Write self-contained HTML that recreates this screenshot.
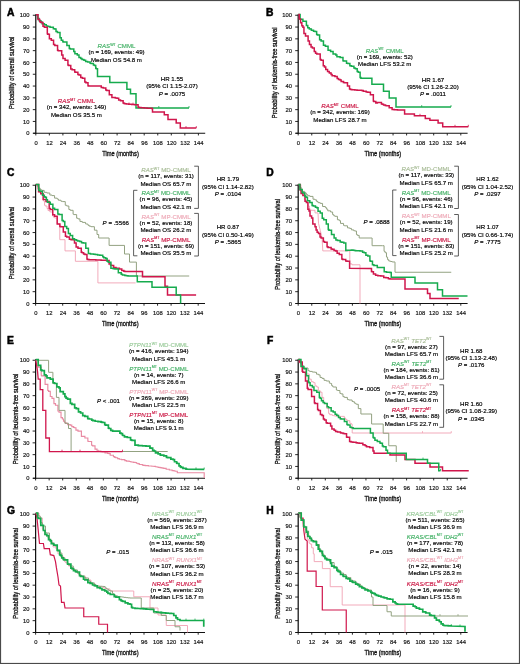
<!DOCTYPE html>
<html><head><meta charset="utf-8"><style>
html,body{margin:0;padding:0;background:#fff;}
body{width:520px;height:664px;overflow:hidden;}
svg{display:block;font-family:"Liberation Sans", sans-serif;filter:blur(0.42px);}
</style></head><body>
<svg width="520" height="664" viewBox="0 0 520 664">
<rect x="0" y="0" width="520" height="664" fill="#fff"/>
<text x="7" y="16" font-size="10.3" font-weight="bold" fill="#000" stroke="#000" stroke-width="0.5">A</text>
<line x1="35.8" y1="14.25" x2="35.8" y2="133.75" stroke="#111" stroke-width="1.25"/>
<line x1="32.8" y1="133.25" x2="35.8" y2="133.25" stroke="#111" stroke-width="0.9"/>
<text transform="translate(29.6,135.3) scale(1.01,1)" font-size="5.8" text-anchor="end" fill="#111" stroke="#111" stroke-width="0.16" >0</text>
<line x1="32.8" y1="121.45" x2="35.8" y2="121.45" stroke="#111" stroke-width="0.9"/>
<text transform="translate(29.6,123.5) scale(1.01,1)" font-size="5.8" text-anchor="end" fill="#111" stroke="#111" stroke-width="0.16" >10</text>
<line x1="32.8" y1="109.65" x2="35.8" y2="109.65" stroke="#111" stroke-width="0.9"/>
<text transform="translate(29.6,111.7) scale(1.01,1)" font-size="5.8" text-anchor="end" fill="#111" stroke="#111" stroke-width="0.16" >20</text>
<line x1="32.8" y1="97.85" x2="35.8" y2="97.85" stroke="#111" stroke-width="0.9"/>
<text transform="translate(29.6,99.9) scale(1.01,1)" font-size="5.8" text-anchor="end" fill="#111" stroke="#111" stroke-width="0.16" >30</text>
<line x1="32.8" y1="86.05" x2="35.8" y2="86.05" stroke="#111" stroke-width="0.9"/>
<text transform="translate(29.6,88.1) scale(1.01,1)" font-size="5.8" text-anchor="end" fill="#111" stroke="#111" stroke-width="0.16" >40</text>
<line x1="32.8" y1="74.25" x2="35.8" y2="74.25" stroke="#111" stroke-width="0.9"/>
<text transform="translate(29.6,76.3) scale(1.01,1)" font-size="5.8" text-anchor="end" fill="#111" stroke="#111" stroke-width="0.16" >50</text>
<line x1="32.8" y1="62.45" x2="35.8" y2="62.45" stroke="#111" stroke-width="0.9"/>
<text transform="translate(29.6,64.5) scale(1.01,1)" font-size="5.8" text-anchor="end" fill="#111" stroke="#111" stroke-width="0.16" >60</text>
<line x1="32.8" y1="50.65" x2="35.8" y2="50.65" stroke="#111" stroke-width="0.9"/>
<text transform="translate(29.6,52.7) scale(1.01,1)" font-size="5.8" text-anchor="end" fill="#111" stroke="#111" stroke-width="0.16" >70</text>
<line x1="32.8" y1="38.85" x2="35.8" y2="38.85" stroke="#111" stroke-width="0.9"/>
<text transform="translate(29.6,40.9) scale(1.01,1)" font-size="5.8" text-anchor="end" fill="#111" stroke="#111" stroke-width="0.16" >80</text>
<line x1="32.8" y1="27.05" x2="35.8" y2="27.05" stroke="#111" stroke-width="0.9"/>
<text transform="translate(29.6,29.1) scale(1.01,1)" font-size="5.8" text-anchor="end" fill="#111" stroke="#111" stroke-width="0.16" >90</text>
<line x1="32.8" y1="15.25" x2="35.8" y2="15.25" stroke="#111" stroke-width="0.9"/>
<text transform="translate(29.6,17.3) scale(1.01,1)" font-size="5.8" text-anchor="end" fill="#111" stroke="#111" stroke-width="0.16" >100</text>
<line x1="33.2" y1="133.25" x2="205.2" y2="133.25" stroke="#111" stroke-width="1.2"/>
<line x1="35.8" y1="133.25" x2="35.8" y2="135.45" stroke="#111" stroke-width="0.9"/>
<text transform="translate(36,144.55) scale(1.01,1)" font-size="5.8" text-anchor="middle" fill="#111" stroke="#111" stroke-width="0.16" >0</text>
<line x1="49.35" y1="133.25" x2="49.35" y2="135.45" stroke="#111" stroke-width="0.9"/>
<text transform="translate(49.55,144.55) scale(1.01,1)" font-size="5.8" text-anchor="middle" fill="#111" stroke="#111" stroke-width="0.16" >12</text>
<line x1="62.9" y1="133.25" x2="62.9" y2="135.45" stroke="#111" stroke-width="0.9"/>
<text transform="translate(63.1,144.55) scale(1.01,1)" font-size="5.8" text-anchor="middle" fill="#111" stroke="#111" stroke-width="0.16" >24</text>
<line x1="76.45" y1="133.25" x2="76.45" y2="135.45" stroke="#111" stroke-width="0.9"/>
<text transform="translate(76.65,144.55) scale(1.01,1)" font-size="5.8" text-anchor="middle" fill="#111" stroke="#111" stroke-width="0.16" >36</text>
<line x1="90" y1="133.25" x2="90" y2="135.45" stroke="#111" stroke-width="0.9"/>
<text transform="translate(90.2,144.55) scale(1.01,1)" font-size="5.8" text-anchor="middle" fill="#111" stroke="#111" stroke-width="0.16" >48</text>
<line x1="103.55" y1="133.25" x2="103.55" y2="135.45" stroke="#111" stroke-width="0.9"/>
<text transform="translate(103.75,144.55) scale(1.01,1)" font-size="5.8" text-anchor="middle" fill="#111" stroke="#111" stroke-width="0.16" >60</text>
<line x1="117.1" y1="133.25" x2="117.1" y2="135.45" stroke="#111" stroke-width="0.9"/>
<text transform="translate(117.3,144.55) scale(1.01,1)" font-size="5.8" text-anchor="middle" fill="#111" stroke="#111" stroke-width="0.16" >72</text>
<line x1="130.65" y1="133.25" x2="130.65" y2="135.45" stroke="#111" stroke-width="0.9"/>
<text transform="translate(130.85,144.55) scale(1.01,1)" font-size="5.8" text-anchor="middle" fill="#111" stroke="#111" stroke-width="0.16" >84</text>
<line x1="144.2" y1="133.25" x2="144.2" y2="135.45" stroke="#111" stroke-width="0.9"/>
<text transform="translate(144.4,144.55) scale(1.01,1)" font-size="5.8" text-anchor="middle" fill="#111" stroke="#111" stroke-width="0.16" >96</text>
<line x1="157.75" y1="133.25" x2="157.75" y2="135.45" stroke="#111" stroke-width="0.9"/>
<text transform="translate(157.95,144.55) scale(1.01,1)" font-size="5.8" text-anchor="middle" fill="#111" stroke="#111" stroke-width="0.16" >108</text>
<line x1="171.3" y1="133.25" x2="171.3" y2="135.45" stroke="#111" stroke-width="0.9"/>
<text transform="translate(171.5,144.55) scale(1.01,1)" font-size="5.8" text-anchor="middle" fill="#111" stroke="#111" stroke-width="0.16" >120</text>
<line x1="184.85" y1="133.25" x2="184.85" y2="135.45" stroke="#111" stroke-width="0.9"/>
<text transform="translate(185.05,144.55) scale(1.01,1)" font-size="5.8" text-anchor="middle" fill="#111" stroke="#111" stroke-width="0.16" >132</text>
<line x1="198.4" y1="133.25" x2="198.4" y2="135.45" stroke="#111" stroke-width="0.9"/>
<text transform="translate(198.6,144.55) scale(1.01,1)" font-size="5.8" text-anchor="middle" fill="#111" stroke="#111" stroke-width="0.16" >144</text>
<text x="120.5" y="156.05" font-size="7.6" text-anchor="middle" fill="#111" stroke="#111" stroke-width="0.34" textLength="36.6" lengthAdjust="spacingAndGlyphs">Time (months)</text>
<text transform="translate(14.2,72.85) rotate(-90)" x="0" y="0" font-size="7.7" text-anchor="middle" fill="#111" stroke="#111" stroke-width="0.32" textLength="72.5" lengthAdjust="spacingAndGlyphs">Probability of overall survival</text>
<path d="M36,14.8 L37.77,14.8 L37.77,18.45 L39.13,18.45 L39.13,20.78 L40.9,20.78 L40.9,22.1 L42.07,22.1 L42.07,23.83 L44.4,23.83 L44.4,24.7 L46.27,24.7 L46.27,26.02 L47.8,26.02 L47.8,26.4 L50.02,26.4 L50.02,27.14 L51.3,27.14 L51.3,27.3 L53.34,27.3 L53.34,28.65 L54.8,28.65 L54.8,29 L56.01,29 L56.01,31.56 L57.4,31.56 L57.4,32.5 L60,32.5 L60,37.7 L61.29,37.7 L61.29,40.3 L62.82,40.3 L62.82,41.63 L63.4,41.63 L63.4,42 L66.9,42 L66.9,45.5 L69.29,45.5 L69.29,48.39 L70.3,48.39 L70.3,48.9 L73.8,48.9 L73.8,51.5 L74.9,51.5 L74.9,53.8 L77.3,53.8 L77.3,55 L78.99,55 L78.99,57.55 L80.7,57.55 L80.7,58.4 L81.98,58.4 L81.98,59.5 L83.71,59.5 L83.71,60.07 L84.2,60.07 L84.2,60.2 L85.63,60.2 L85.63,61.41 L87.6,61.41 L87.6,61.9 L90.14,61.9 L90.14,63.37 L91.1,63.37 L91.1,63.6 L93.42,63.6 L93.42,65.1 L94.6,65.1 L94.6,65.4 L95.73,65.4 L95.73,68.23 L96.3,68.23 L96.3,68.8 L97.5,68.8 L97.5,70 L97.5,76.6 L109.8,76.6 L109.8,82.6 L126.9,82.6 L126.9,89.2 L130.5,89.2 L130.5,93.8 L136,93.8 L136,107.9 L189,107.9" fill="none" stroke="#16ab4e" stroke-width="1.5" stroke-linejoin="miter" stroke-linecap="butt" opacity="1"/>
<path d="M36,14.8 L38.02,14.8 L38.02,19.42 L39.78,19.42 L39.78,21.7 L40.9,21.7 L40.9,22.6 L42.99,22.6 L42.99,26.35 L44.4,26.35 L44.4,27.3 L47.31,27.3 L47.31,33.71 L47.8,33.71 L47.8,34.2 L49.38,34.2 L49.38,38.63 L51.3,38.63 L51.3,40.3 L53.56,40.3 L53.56,44.58 L54.8,44.58 L54.8,45.5 L57.56,45.5 L57.56,50.21 L58.2,50.21 L58.2,50.7 L61.7,50.7 L61.7,55 L62.98,55 L62.98,58.58 L65.1,58.58 L65.1,60.2 L67.92,60.2 L67.92,64.9 L68.6,64.9 L68.6,65.4 L70.77,65.4 L70.77,68.89 L72.1,68.89 L72.1,69.7 L74.71,69.7 L74.71,72 L75.5,72 L75.5,72.3 L77.88,72.3 L77.88,74.48 L79,74.48 L79,74.9 L80.75,74.9 L80.75,77.47 L82.4,77.47 L82.4,78.3 L84.83,78.3 L84.83,82.03 L85.9,82.03 L85.9,82.7 L87.99,82.7 L87.99,85.77 L88.5,85.77 L88.5,86.1 L98,86.1 L101.28,86.1 L101.28,87.57 L103.2,87.57 L103.2,87.9 L105.8,87.9 L105.8,90.08 L106.7,90.08 L106.7,90.4 L109.3,90.4 L109.3,94.8 L111.9,94.8 L111.9,97.4 L115.29,97.4 L115.29,98.07 L117,98.07 L117,98.2 L118.68,98.2 L118.68,100.12 L120.5,100.12 L120.5,100.8 L123.11,100.8 L123.11,103.07 L124,103.07 L124,103.4 L125,103.4 L125,103.8 L126.4,103.8 L126.4,103.97 L127.67,103.97 L127.67,104.07 L128.8,104.07 L128.8,104.24 L131.65,104.24 L131.65,104.41 L132.95,104.41 L132.95,104.54 L134.54,104.54 L134.54,104.68 L136.48,104.68 L136.48,104.78 L136.9,104.78 L136.9,104.8 L138.09,104.8 L138.09,107.04 L138.7,107.04 L138.7,107.5 L141.02,107.5 L141.02,107.75 L144.15,107.75 L144.15,107.95 L147.12,107.95 L147.12,108.15 L150.2,108.15 L150.2,108.3 L151.86,108.3 L151.86,108.38 L152.5,108.38 L152.5,108.4 L152.5,112.1 L164.3,112.1 L164.3,114.8 L168,114.8 L168,119.4 L176.2,119.4 L176.2,123 L180.3,123 L180.3,128 L196.3,128" fill="none" stroke="#d0164c" stroke-width="1.5" stroke-linejoin="miter" stroke-linecap="butt" opacity="1"/>
<path d="M158.8,107.9 V106 M189,107.9 V106" stroke="#16ab4e" stroke-width="0.8" fill="none"/>
<path d="M129,104.4 V102.5 M133,104.6 V102.7 M196.3,128 V126.1 M186,128 V126.1" stroke="#d0164c" stroke-width="0.8" fill="none"/>
<text transform="translate(116.5,48.1) scale(0.98,1)" font-size="6.25" text-anchor="middle" fill="#46b268" stroke="#46b268" stroke-width="0.16"><tspan font-style="italic">RAS</tspan><tspan font-size="3.7" dy="-2.4">WT</tspan><tspan dy="2.4"> </tspan>CMML</text>
<text transform="translate(116.5,54.2) scale(0.98,1)" font-size="6.25" text-anchor="middle" fill="#000" stroke="#000" stroke-width="0.16" >(n = 169, events: 49)</text>
<text transform="translate(116.5,61.7) scale(0.98,1)" font-size="6.25" text-anchor="middle" fill="#000" stroke="#000" stroke-width="0.16" >Median OS 54.8 m</text>
<text transform="translate(76.5,103.2) scale(0.98,1)" font-size="6.25" text-anchor="middle" fill="#cc1a46" stroke="#cc1a46" stroke-width="0.16"><tspan font-style="italic">RAS</tspan><tspan font-size="3.7" dy="-2.4">MT</tspan><tspan dy="2.4"> </tspan>CMML</text>
<text transform="translate(76.5,109.3) scale(0.98,1)" font-size="6.25" text-anchor="middle" fill="#000" stroke="#000" stroke-width="0.16" >(n = 342, events: 149)</text>
<text transform="translate(76.5,116.8) scale(0.98,1)" font-size="6.25" text-anchor="middle" fill="#000" stroke="#000" stroke-width="0.16" >Median OS 35.5 m</text>
<text transform="translate(172,81) scale(0.98,1)" font-size="6.25" text-anchor="middle" fill="#000" stroke="#000" stroke-width="0.16" >HR 1.55</text>
<text transform="translate(172,88.3) scale(0.98,1)" font-size="6.25" text-anchor="middle" fill="#000" stroke="#000" stroke-width="0.16" >(95% CI 1.15-2.07)</text>
<text transform="translate(172,95.6) scale(0.98,1)" font-size="6.25" text-anchor="middle" fill="#000" stroke="#000" stroke-width="0.16" ><tspan font-style="italic">P</tspan> = .0075</text>
<text x="266" y="16" font-size="10.3" font-weight="bold" fill="#000" stroke="#000" stroke-width="0.5">B</text>
<line x1="298.2" y1="14.25" x2="298.2" y2="133.75" stroke="#111" stroke-width="1.25"/>
<line x1="295.2" y1="133.25" x2="298.2" y2="133.25" stroke="#111" stroke-width="0.9"/>
<text transform="translate(292,135.3) scale(1.01,1)" font-size="5.8" text-anchor="end" fill="#111" stroke="#111" stroke-width="0.16" >0</text>
<line x1="295.2" y1="121.45" x2="298.2" y2="121.45" stroke="#111" stroke-width="0.9"/>
<text transform="translate(292,123.5) scale(1.01,1)" font-size="5.8" text-anchor="end" fill="#111" stroke="#111" stroke-width="0.16" >10</text>
<line x1="295.2" y1="109.65" x2="298.2" y2="109.65" stroke="#111" stroke-width="0.9"/>
<text transform="translate(292,111.7) scale(1.01,1)" font-size="5.8" text-anchor="end" fill="#111" stroke="#111" stroke-width="0.16" >20</text>
<line x1="295.2" y1="97.85" x2="298.2" y2="97.85" stroke="#111" stroke-width="0.9"/>
<text transform="translate(292,99.9) scale(1.01,1)" font-size="5.8" text-anchor="end" fill="#111" stroke="#111" stroke-width="0.16" >30</text>
<line x1="295.2" y1="86.05" x2="298.2" y2="86.05" stroke="#111" stroke-width="0.9"/>
<text transform="translate(292,88.1) scale(1.01,1)" font-size="5.8" text-anchor="end" fill="#111" stroke="#111" stroke-width="0.16" >40</text>
<line x1="295.2" y1="74.25" x2="298.2" y2="74.25" stroke="#111" stroke-width="0.9"/>
<text transform="translate(292,76.3) scale(1.01,1)" font-size="5.8" text-anchor="end" fill="#111" stroke="#111" stroke-width="0.16" >50</text>
<line x1="295.2" y1="62.45" x2="298.2" y2="62.45" stroke="#111" stroke-width="0.9"/>
<text transform="translate(292,64.5) scale(1.01,1)" font-size="5.8" text-anchor="end" fill="#111" stroke="#111" stroke-width="0.16" >60</text>
<line x1="295.2" y1="50.65" x2="298.2" y2="50.65" stroke="#111" stroke-width="0.9"/>
<text transform="translate(292,52.7) scale(1.01,1)" font-size="5.8" text-anchor="end" fill="#111" stroke="#111" stroke-width="0.16" >70</text>
<line x1="295.2" y1="38.85" x2="298.2" y2="38.85" stroke="#111" stroke-width="0.9"/>
<text transform="translate(292,40.9) scale(1.01,1)" font-size="5.8" text-anchor="end" fill="#111" stroke="#111" stroke-width="0.16" >80</text>
<line x1="295.2" y1="27.05" x2="298.2" y2="27.05" stroke="#111" stroke-width="0.9"/>
<text transform="translate(292,29.1) scale(1.01,1)" font-size="5.8" text-anchor="end" fill="#111" stroke="#111" stroke-width="0.16" >90</text>
<line x1="295.2" y1="15.25" x2="298.2" y2="15.25" stroke="#111" stroke-width="0.9"/>
<text transform="translate(292,17.3) scale(1.01,1)" font-size="5.8" text-anchor="end" fill="#111" stroke="#111" stroke-width="0.16" >100</text>
<line x1="295.6" y1="133.25" x2="467.6" y2="133.25" stroke="#111" stroke-width="1.2"/>
<line x1="298.2" y1="133.25" x2="298.2" y2="135.45" stroke="#111" stroke-width="0.9"/>
<text transform="translate(298.4,144.55) scale(1.01,1)" font-size="5.8" text-anchor="middle" fill="#111" stroke="#111" stroke-width="0.16" >0</text>
<line x1="311.75" y1="133.25" x2="311.75" y2="135.45" stroke="#111" stroke-width="0.9"/>
<text transform="translate(311.95,144.55) scale(1.01,1)" font-size="5.8" text-anchor="middle" fill="#111" stroke="#111" stroke-width="0.16" >12</text>
<line x1="325.3" y1="133.25" x2="325.3" y2="135.45" stroke="#111" stroke-width="0.9"/>
<text transform="translate(325.5,144.55) scale(1.01,1)" font-size="5.8" text-anchor="middle" fill="#111" stroke="#111" stroke-width="0.16" >24</text>
<line x1="338.85" y1="133.25" x2="338.85" y2="135.45" stroke="#111" stroke-width="0.9"/>
<text transform="translate(339.05,144.55) scale(1.01,1)" font-size="5.8" text-anchor="middle" fill="#111" stroke="#111" stroke-width="0.16" >36</text>
<line x1="352.4" y1="133.25" x2="352.4" y2="135.45" stroke="#111" stroke-width="0.9"/>
<text transform="translate(352.6,144.55) scale(1.01,1)" font-size="5.8" text-anchor="middle" fill="#111" stroke="#111" stroke-width="0.16" >48</text>
<line x1="365.95" y1="133.25" x2="365.95" y2="135.45" stroke="#111" stroke-width="0.9"/>
<text transform="translate(366.15,144.55) scale(1.01,1)" font-size="5.8" text-anchor="middle" fill="#111" stroke="#111" stroke-width="0.16" >60</text>
<line x1="379.5" y1="133.25" x2="379.5" y2="135.45" stroke="#111" stroke-width="0.9"/>
<text transform="translate(379.7,144.55) scale(1.01,1)" font-size="5.8" text-anchor="middle" fill="#111" stroke="#111" stroke-width="0.16" >72</text>
<line x1="393.05" y1="133.25" x2="393.05" y2="135.45" stroke="#111" stroke-width="0.9"/>
<text transform="translate(393.25,144.55) scale(1.01,1)" font-size="5.8" text-anchor="middle" fill="#111" stroke="#111" stroke-width="0.16" >84</text>
<line x1="406.6" y1="133.25" x2="406.6" y2="135.45" stroke="#111" stroke-width="0.9"/>
<text transform="translate(406.8,144.55) scale(1.01,1)" font-size="5.8" text-anchor="middle" fill="#111" stroke="#111" stroke-width="0.16" >96</text>
<line x1="420.15" y1="133.25" x2="420.15" y2="135.45" stroke="#111" stroke-width="0.9"/>
<text transform="translate(420.35,144.55) scale(1.01,1)" font-size="5.8" text-anchor="middle" fill="#111" stroke="#111" stroke-width="0.16" >108</text>
<line x1="433.7" y1="133.25" x2="433.7" y2="135.45" stroke="#111" stroke-width="0.9"/>
<text transform="translate(433.9,144.55) scale(1.01,1)" font-size="5.8" text-anchor="middle" fill="#111" stroke="#111" stroke-width="0.16" >120</text>
<line x1="447.25" y1="133.25" x2="447.25" y2="135.45" stroke="#111" stroke-width="0.9"/>
<text transform="translate(447.45,144.55) scale(1.01,1)" font-size="5.8" text-anchor="middle" fill="#111" stroke="#111" stroke-width="0.16" >132</text>
<line x1="460.8" y1="133.25" x2="460.8" y2="135.45" stroke="#111" stroke-width="0.9"/>
<text transform="translate(461,144.55) scale(1.01,1)" font-size="5.8" text-anchor="middle" fill="#111" stroke="#111" stroke-width="0.16" >144</text>
<text x="382.9" y="156.05" font-size="7.6" text-anchor="middle" fill="#111" stroke="#111" stroke-width="0.34" textLength="36.6" lengthAdjust="spacingAndGlyphs">Time (months)</text>
<text transform="translate(276.9,72.85) rotate(-90)" x="0" y="0" font-size="7.7" text-anchor="middle" fill="#111" stroke="#111" stroke-width="0.32" textLength="90.6" lengthAdjust="spacingAndGlyphs">Probability of leukemia-free survival</text>
<path d="M298.25,14.5 L300.11,14.5 L300.11,19.19 L302.9,19.19 L302.9,21.2 L306.4,21.2 L306.4,25.6 L307.76,25.6 L307.76,27.66 L309.17,27.66 L309.17,28.69 L309.8,28.69 L309.8,29 L311.35,29 L311.35,30.32 L313.52,30.32 L313.52,31.23 L315,31.23 L315,31.6 L316.63,31.6 L316.63,34.44 L317.6,34.44 L317.6,35.1 L319.6,35.1 L319.6,39.82 L321.1,39.82 L321.1,41.1 L323.46,41.1 L323.46,45.13 L325.4,45.13 L325.4,46.3 L328.06,46.3 L328.06,50.23 L330.6,50.23 L330.6,51.5 L333.08,51.5 L333.08,54.09 L335.8,54.09 L335.8,55 L336.92,55 L336.92,56.64 L340.1,56.64 L340.1,57.6 L342.98,57.6 L342.98,60.7 L343.6,60.7 L343.6,61 L346.52,61 L346.52,63.18 L347.9,63.18 L347.9,63.6 L349.86,63.6 L349.86,65.63 L351.4,65.63 L351.4,66.2 L353.92,66.2 L353.92,68.07 L355.07,68.07 L355.07,68.61 L355.7,68.61 L355.7,68.8 L357.2,68.8 L357.2,71.56 L358.3,71.56 L358.3,72.3 L360.11,72.3 L360.11,77.39 L360.9,77.39 L360.9,78.3 L371.9,78.3 L371.9,84.2 L383.5,84.2 L383.5,91.3 L389.2,91.3 L389.2,98.1 L396,98.1 L396,107 L451,107" fill="none" stroke="#16ab4e" stroke-width="1.5" stroke-linejoin="miter" stroke-linecap="butt" opacity="1"/>
<path d="M298.25,14.5 L299.24,14.5 L299.24,19.09 L300.6,19.09 L300.6,22.66 L301.83,22.66 L301.83,25.83 L302.9,25.83 L302.9,27.3 L303.95,27.3 L303.95,33.41 L305.5,33.41 L305.5,36 L308.1,36 L308.1,41.1 L309.45,41.1 L309.45,44.6 L311.05,44.6 L311.05,47 L312.4,47 L312.4,48.1 L314.27,48.1 L314.27,51.53 L315.56,51.53 L315.56,53.25 L316.8,53.25 L316.8,54.1 L320.19,54.1 L320.19,59.56 L321.1,59.56 L321.1,60.2 L323.26,60.2 L323.26,65.84 L324.5,65.84 L324.5,67.1 L325.74,67.1 L325.74,69.58 L327.56,69.58 L327.56,71.57 L329.19,71.57 L329.19,72.8 L329.7,72.8 L329.7,73.1 L331.08,73.1 L331.08,74.38 L332.13,74.38 L332.13,75.67 L334.9,75.67 L334.9,76.6 L337.17,76.6 L337.17,78.58 L338.51,78.58 L338.51,79.57 L340.1,79.57 L340.1,80.1 L341.16,80.1 L341.16,81.42 L343.42,81.42 L343.42,82.4 L344.4,82.4 L344.4,82.7 L347.48,82.7 L347.48,85.9 L347.9,85.9 L347.9,86.1 L349.52,86.1 L349.52,88.94 L350.5,88.94 L350.5,89.6 L351.89,89.6 L351.89,89.8 L354.8,89.8 L354.8,89.9 L357.08,89.9 L357.08,90.17 L359.95,90.17 L359.95,90.34 L361.7,90.34 L361.7,90.4 L363.23,90.4 L363.23,91.29 L366.18,91.29 L366.18,91.96 L367.8,91.96 L367.8,92.2 L370.4,92.2 L370.4,94.8 L373.34,94.8 L373.34,100.95 L373.8,100.95 L373.8,101.4 L375.8,101.4 L375.8,102.9 L377.34,102.9 L377.34,102.55 L379.6,102.55 L379.6,102.4 L381.45,102.4 L381.45,103.96 L382.5,103.96 L382.5,104.3 L383.56,104.3 L383.56,105.05 L385.22,105.05 L385.22,105.59 L386.3,105.59 L386.3,105.8 L389.2,105.8 L389.2,107.7 L392.1,107.7 L392.1,109.6 L394.17,109.6 L394.17,109.75 L397.43,109.75 L397.43,109.88 L400.81,109.88 L400.81,110.01 L404.11,110.01 L404.11,110.09 L404.6,110.09 L404.6,110.1 L404.6,113.9 L414.4,113.9 L414.4,115.7 L425.3,115.7 L425.3,118.5 L429.9,118.5 L429.9,120.3 L438.1,120.3 L438.1,123 L442.7,123 L442.7,126.7 L468.3,126.7" fill="none" stroke="#d0164c" stroke-width="1.5" stroke-linejoin="miter" stroke-linecap="butt" opacity="1"/>
<path d="M421.7,107 V105.1 M451,107 V105.1" stroke="#16ab4e" stroke-width="0.8" fill="none"/>
<path d="M468.3,126.7 V124.8 M455,126.7 V124.8 M420,115.7 V113.8" stroke="#d0164c" stroke-width="0.8" fill="none"/>
<text transform="translate(384.75,52.5) scale(0.98,1)" font-size="6.25" text-anchor="middle" fill="#46b268" stroke="#46b268" stroke-width="0.16"><tspan font-style="italic">RAS</tspan><tspan font-size="3.7" dy="-2.4">WT</tspan><tspan dy="2.4"> </tspan>CMML</text>
<text transform="translate(384.75,58.6) scale(0.98,1)" font-size="6.25" text-anchor="middle" fill="#000" stroke="#000" stroke-width="0.16" >(n = 169, events: 52)</text>
<text transform="translate(384.75,66.1) scale(0.98,1)" font-size="6.25" text-anchor="middle" fill="#000" stroke="#000" stroke-width="0.16" >Median LFS 53.2 m</text>
<text transform="translate(340,108.1) scale(0.98,1)" font-size="6.25" text-anchor="middle" fill="#cc1a46" stroke="#cc1a46" stroke-width="0.16"><tspan font-style="italic">RAS</tspan><tspan font-size="3.7" dy="-2.4">MT</tspan><tspan dy="2.4"> </tspan>CMML</text>
<text transform="translate(340,114.2) scale(0.98,1)" font-size="6.25" text-anchor="middle" fill="#000" stroke="#000" stroke-width="0.16" >(n = 342, events: 169)</text>
<text transform="translate(340,121.7) scale(0.98,1)" font-size="6.25" text-anchor="middle" fill="#000" stroke="#000" stroke-width="0.16" >Median LFS 28.7 m</text>
<text transform="translate(433,81.8) scale(0.98,1)" font-size="6.25" text-anchor="middle" fill="#000" stroke="#000" stroke-width="0.16" >HR 1.67</text>
<text transform="translate(433,89.1) scale(0.98,1)" font-size="6.25" text-anchor="middle" fill="#000" stroke="#000" stroke-width="0.16" >(95% CI 1.26-2.20)</text>
<text transform="translate(433,96.4) scale(0.98,1)" font-size="6.25" text-anchor="middle" fill="#000" stroke="#000" stroke-width="0.16" ><tspan font-style="italic">P</tspan> = .0011</text>
<text x="7" y="175.5" font-size="10.3" font-weight="bold" fill="#000" stroke="#000" stroke-width="0.5">C</text>
<line x1="35.6" y1="184.25" x2="35.6" y2="304" stroke="#111" stroke-width="1.25"/>
<line x1="32.6" y1="303.5" x2="35.6" y2="303.5" stroke="#111" stroke-width="0.9"/>
<text transform="translate(29.4,305.55) scale(1.01,1)" font-size="5.8" text-anchor="end" fill="#111" stroke="#111" stroke-width="0.16" >0</text>
<line x1="32.6" y1="291.68" x2="35.6" y2="291.68" stroke="#111" stroke-width="0.9"/>
<text transform="translate(29.4,293.73) scale(1.01,1)" font-size="5.8" text-anchor="end" fill="#111" stroke="#111" stroke-width="0.16" >10</text>
<line x1="32.6" y1="279.85" x2="35.6" y2="279.85" stroke="#111" stroke-width="0.9"/>
<text transform="translate(29.4,281.9) scale(1.01,1)" font-size="5.8" text-anchor="end" fill="#111" stroke="#111" stroke-width="0.16" >20</text>
<line x1="32.6" y1="268.02" x2="35.6" y2="268.02" stroke="#111" stroke-width="0.9"/>
<text transform="translate(29.4,270.07) scale(1.01,1)" font-size="5.8" text-anchor="end" fill="#111" stroke="#111" stroke-width="0.16" >30</text>
<line x1="32.6" y1="256.2" x2="35.6" y2="256.2" stroke="#111" stroke-width="0.9"/>
<text transform="translate(29.4,258.25) scale(1.01,1)" font-size="5.8" text-anchor="end" fill="#111" stroke="#111" stroke-width="0.16" >40</text>
<line x1="32.6" y1="244.38" x2="35.6" y2="244.38" stroke="#111" stroke-width="0.9"/>
<text transform="translate(29.4,246.43) scale(1.01,1)" font-size="5.8" text-anchor="end" fill="#111" stroke="#111" stroke-width="0.16" >50</text>
<line x1="32.6" y1="232.55" x2="35.6" y2="232.55" stroke="#111" stroke-width="0.9"/>
<text transform="translate(29.4,234.6) scale(1.01,1)" font-size="5.8" text-anchor="end" fill="#111" stroke="#111" stroke-width="0.16" >60</text>
<line x1="32.6" y1="220.72" x2="35.6" y2="220.72" stroke="#111" stroke-width="0.9"/>
<text transform="translate(29.4,222.78) scale(1.01,1)" font-size="5.8" text-anchor="end" fill="#111" stroke="#111" stroke-width="0.16" >70</text>
<line x1="32.6" y1="208.9" x2="35.6" y2="208.9" stroke="#111" stroke-width="0.9"/>
<text transform="translate(29.4,210.95) scale(1.01,1)" font-size="5.8" text-anchor="end" fill="#111" stroke="#111" stroke-width="0.16" >80</text>
<line x1="32.6" y1="197.07" x2="35.6" y2="197.07" stroke="#111" stroke-width="0.9"/>
<text transform="translate(29.4,199.12) scale(1.01,1)" font-size="5.8" text-anchor="end" fill="#111" stroke="#111" stroke-width="0.16" >90</text>
<line x1="32.6" y1="185.25" x2="35.6" y2="185.25" stroke="#111" stroke-width="0.9"/>
<text transform="translate(29.4,187.3) scale(1.01,1)" font-size="5.8" text-anchor="end" fill="#111" stroke="#111" stroke-width="0.16" >100</text>
<line x1="33" y1="303.5" x2="205" y2="303.5" stroke="#111" stroke-width="1.2"/>
<line x1="35.6" y1="303.5" x2="35.6" y2="305.7" stroke="#111" stroke-width="0.9"/>
<text transform="translate(35.8,314.8) scale(1.01,1)" font-size="5.8" text-anchor="middle" fill="#111" stroke="#111" stroke-width="0.16" >0</text>
<line x1="49.15" y1="303.5" x2="49.15" y2="305.7" stroke="#111" stroke-width="0.9"/>
<text transform="translate(49.35,314.8) scale(1.01,1)" font-size="5.8" text-anchor="middle" fill="#111" stroke="#111" stroke-width="0.16" >12</text>
<line x1="62.7" y1="303.5" x2="62.7" y2="305.7" stroke="#111" stroke-width="0.9"/>
<text transform="translate(62.9,314.8) scale(1.01,1)" font-size="5.8" text-anchor="middle" fill="#111" stroke="#111" stroke-width="0.16" >24</text>
<line x1="76.25" y1="303.5" x2="76.25" y2="305.7" stroke="#111" stroke-width="0.9"/>
<text transform="translate(76.45,314.8) scale(1.01,1)" font-size="5.8" text-anchor="middle" fill="#111" stroke="#111" stroke-width="0.16" >36</text>
<line x1="89.8" y1="303.5" x2="89.8" y2="305.7" stroke="#111" stroke-width="0.9"/>
<text transform="translate(90,314.8) scale(1.01,1)" font-size="5.8" text-anchor="middle" fill="#111" stroke="#111" stroke-width="0.16" >48</text>
<line x1="103.35" y1="303.5" x2="103.35" y2="305.7" stroke="#111" stroke-width="0.9"/>
<text transform="translate(103.55,314.8) scale(1.01,1)" font-size="5.8" text-anchor="middle" fill="#111" stroke="#111" stroke-width="0.16" >60</text>
<line x1="116.9" y1="303.5" x2="116.9" y2="305.7" stroke="#111" stroke-width="0.9"/>
<text transform="translate(117.1,314.8) scale(1.01,1)" font-size="5.8" text-anchor="middle" fill="#111" stroke="#111" stroke-width="0.16" >72</text>
<line x1="130.45" y1="303.5" x2="130.45" y2="305.7" stroke="#111" stroke-width="0.9"/>
<text transform="translate(130.65,314.8) scale(1.01,1)" font-size="5.8" text-anchor="middle" fill="#111" stroke="#111" stroke-width="0.16" >84</text>
<line x1="144" y1="303.5" x2="144" y2="305.7" stroke="#111" stroke-width="0.9"/>
<text transform="translate(144.2,314.8) scale(1.01,1)" font-size="5.8" text-anchor="middle" fill="#111" stroke="#111" stroke-width="0.16" >96</text>
<line x1="157.55" y1="303.5" x2="157.55" y2="305.7" stroke="#111" stroke-width="0.9"/>
<text transform="translate(157.75,314.8) scale(1.01,1)" font-size="5.8" text-anchor="middle" fill="#111" stroke="#111" stroke-width="0.16" >108</text>
<line x1="171.1" y1="303.5" x2="171.1" y2="305.7" stroke="#111" stroke-width="0.9"/>
<text transform="translate(171.3,314.8) scale(1.01,1)" font-size="5.8" text-anchor="middle" fill="#111" stroke="#111" stroke-width="0.16" >120</text>
<line x1="184.65" y1="303.5" x2="184.65" y2="305.7" stroke="#111" stroke-width="0.9"/>
<text transform="translate(184.85,314.8) scale(1.01,1)" font-size="5.8" text-anchor="middle" fill="#111" stroke="#111" stroke-width="0.16" >132</text>
<line x1="198.2" y1="303.5" x2="198.2" y2="305.7" stroke="#111" stroke-width="0.9"/>
<text transform="translate(198.4,314.8) scale(1.01,1)" font-size="5.8" text-anchor="middle" fill="#111" stroke="#111" stroke-width="0.16" >144</text>
<text x="120.3" y="326.3" font-size="7.6" text-anchor="middle" fill="#111" stroke="#111" stroke-width="0.34" textLength="36.6" lengthAdjust="spacingAndGlyphs">Time (months)</text>
<text transform="translate(14,243.07) rotate(-90)" x="0" y="0" font-size="7.7" text-anchor="middle" fill="#111" stroke="#111" stroke-width="0.32" textLength="72.5" lengthAdjust="spacingAndGlyphs">Probability of overall survival</text>
<path d="M35.75,184.5 L37.56,184.5 L37.56,189.18 L39.02,189.18 L39.02,192.17 L40.8,192.17 L40.8,193.8 L43.5,193.8 L43.5,201 L44.54,201 L44.54,205.12 L45.1,205.12 L45.1,206 L47,206 L47,208.5 L48.03,208.5 L48.03,210.55 L49.83,210.55 L49.83,211.75 L50.3,211.75 L50.3,212 L52.53,212 L52.53,215.91 L53.68,215.91 L53.68,217.35 L54.6,217.35 L54.6,218 L57.2,218 L57.2,224.1 L59.8,224.1 L59.8,226.7 L59.8,239.7 L65,239.7 L65,250.9 L75.4,250.9 L75.4,261.3 L97.9,261.3 L97.9,282.9 L135.6,282.9" fill="none" stroke="#f0a2b3" stroke-width="0.9" stroke-linejoin="miter" stroke-linecap="butt" opacity="1"/>
<path d="M35.75,184.5 L37.27,184.5 L37.27,186.77 L38.81,186.77 L38.81,188.26 L40.28,188.26 L40.28,189.7 L41.7,189.7 L41.7,190.4 L44.2,190.4 L44.2,192.34 L46.8,192.34 L46.8,193 L49.82,193 L49.82,195.06 L52,195.06 L52,195.6 L54.57,195.6 L54.57,198.14 L57.2,198.14 L57.2,199 L58.4,199 L58.4,200.24 L60.98,200.24 L60.98,201.25 L62.4,201.25 L62.4,201.6 L65.28,201.6 L65.28,205.28 L66.7,205.28 L66.7,206 L68.85,206 L68.85,209.47 L70.2,209.47 L70.2,210.3 L73.1,210.3 L73.1,214.23 L73.7,214.23 L73.7,214.6 L76.63,214.6 L76.63,218.21 L78,218.21 L78,218.9 L79.95,218.9 L79.95,221.44 L82.3,221.44 L82.3,222.4 L85.58,222.4 L85.58,223.9 L86.6,223.9 L86.6,224.1 L88,224.1 L88,225.31 L89.3,225.31 L89.3,226.2 L91,226.2 L91,226.7 L94.4,226.7 L94.4,230.2 L97,230.2 L97,234.5 L98.7,234.5 L98.7,238 L109.1,238 L109.1,245.4 L124.5,245.4 L124.5,254 L129.5,254 L129.5,262.1 L136.4,262.1 L136.4,276 L189.2,276" fill="none" stroke="#93a281" stroke-width="1.0" stroke-linejoin="miter" stroke-linecap="butt" opacity="1"/>
<path d="M35.75,184.5 L38.61,184.5 L38.61,191.78 L40.8,191.78 L40.8,193.8 L43.15,193.8 L43.15,199.46 L46,199.46 L46,201.6 L49.2,201.6 L49.2,208.4 L50.3,208.4 L50.3,209.4 L52.77,209.4 L52.77,214.83 L54.6,214.83 L54.6,216.3 L57.2,216.3 L57.2,224.1 L59.87,224.1 L59.87,226.39 L60.7,226.39 L60.7,226.7 L63.3,226.7 L63.3,231.9 L65.45,231.9 L65.45,236.14 L66.7,236.14 L66.7,237.1 L69.38,237.1 L69.38,239.19 L71.1,239.19 L71.1,239.7 L74.5,239.7 L74.5,243.1 L76.12,243.1 L76.12,246.9 L78,246.9 L78,248.3 L81.27,248.3 L81.27,252.17 L82.3,252.17 L82.3,252.7 L83.62,252.7 L83.62,253.98 L84.9,253.98 L84.9,254.4 L86.96,254.4 L86.96,259.06 L87.5,259.06 L87.5,259.6 L89.07,259.6 L89.07,259.67 L90.24,259.67 L90.24,259.73 L92.85,259.73 L92.85,259.81 L95.74,259.81 L95.74,259.88 L97,259.88 L97,259.9 L98.36,259.9 L98.36,260.04 L101.09,260.04 L101.09,260.18 L103.67,260.18 L103.67,260.29 L105.01,260.29 L105.01,260.36 L106.5,260.36 L106.5,260.4 L109.1,260.4 L109.1,263.9 L110.62,263.9 L110.62,265.25 L111.7,265.25 L111.7,265.6 L113.65,265.6 L113.65,267.49 L116,267.49 L116,268.2 L119.39,268.2 L119.39,269 L120.4,269 L120.4,269.1 L121.78,269.1 L121.78,270.4 L123.82,270.4 L123.82,271.28 L125,271.28 L125,271.6 L142.5,271.6 L142.5,276.8 L165,276.8 L165,286.3 L167.5,286.3 L167.5,295 L196.1,295" fill="none" stroke="#d0164c" stroke-width="1.5" stroke-linejoin="miter" stroke-linecap="butt" opacity="1"/>
<path d="M35.75,184.5 L38.74,184.5 L38.74,190.26 L39.9,190.26 L39.9,191.2 L42.48,191.2 L42.48,195.31 L44.32,195.31 L44.32,196.84 L45.1,196.84 L45.1,197.3 L46.41,197.3 L46.41,199.71 L47.43,199.71 L47.43,202.3 L50.3,202.3 L50.3,204.2 L52.86,204.2 L52.86,208.35 L54.6,208.35 L54.6,209.4 L57.85,209.4 L57.85,213.92 L59,213.92 L59,214.6 L62.1,214.6 L62.1,220.54 L63.3,220.54 L63.3,221.5 L64.8,221.5 L64.8,226.47 L66.7,226.47 L66.7,228.4 L68.4,228.4 L68.4,233.6 L70.2,233.6 L70.2,235.4 L72.61,235.4 L72.61,238.75 L74.5,238.75 L74.5,239.7 L76.5,239.7 L76.5,240.57 L77.81,240.57 L77.81,241.09 L79.7,241.09 L79.7,241.4 L81.55,241.4 L81.55,242.7 L83.2,242.7 L83.2,243.1 L85.8,243.1 L85.8,248.3 L88.4,248.3 L88.4,253.5 L90.41,253.5 L90.41,253.97 L93.62,253.97 L93.62,254.29 L95.3,254.29 L95.3,254.4 L97.58,254.4 L97.58,254.91 L99.83,254.91 L99.83,255.16 L100.87,255.16 L100.87,255.27 L101.3,255.27 L101.3,255.3 L102.73,255.3 L102.73,256.75 L103.73,256.75 L103.73,257.86 L105.7,257.86 L105.7,258.6 L107.11,258.6 L107.11,261.37 L108.3,261.37 L108.3,262.2 L110.9,262.2 L110.9,268.2 L113.24,268.2 L113.24,268.77 L115.02,268.77 L115.02,269.01 L116,269.01 L116,269.1 L118.33,269.1 L118.33,272.87 L121.2,272.87 L121.2,274.3 L122.45,274.3 L122.45,274.9 L124.79,274.9 L124.79,275.4 L126.38,275.4 L126.38,275.8 L128,275.8 L128,276 L137.3,276 L137.3,281.7 L152,281.7 L152,287.2 L176.2,287.2 L176.2,295 L180.6,295 L180.6,303.5" fill="none" stroke="#16ab4e" stroke-width="1.5" stroke-linejoin="miter" stroke-linecap="butt" opacity="1"/>
<text transform="translate(102.6,225.1) scale(0.98,1)" font-size="6.25" text-anchor="start" fill="#000" stroke="#000" stroke-width="0.16" ><tspan font-style="italic">P</tspan> = .5566</text>
<text transform="translate(166,171.9) scale(0.98,1)" font-size="6.25" text-anchor="middle" fill="#a9bd98" stroke="#a9bd98" stroke-width="0.16"><tspan font-style="italic">RAS</tspan><tspan font-size="3.7" dy="-2.4">WT</tspan><tspan dy="2.4"> </tspan>MD-CMML</text>
<text transform="translate(166,178) scale(0.98,1)" font-size="6.25" text-anchor="middle" fill="#000" stroke="#000" stroke-width="0.16" >(n = 117, events: 31)</text>
<text transform="translate(166,185.5) scale(0.98,1)" font-size="6.25" text-anchor="middle" fill="#000" stroke="#000" stroke-width="0.16" >Median OS 65.7 m</text>
<text transform="translate(166,194.9) scale(0.98,1)" font-size="6.25" text-anchor="middle" fill="#46b268" stroke="#46b268" stroke-width="0.16"><tspan font-style="italic">RAS</tspan><tspan font-size="3.7" dy="-2.4">MT</tspan><tspan dy="2.4"> </tspan>MD-CMML</text>
<text transform="translate(166,201) scale(0.98,1)" font-size="6.25" text-anchor="middle" fill="#000" stroke="#000" stroke-width="0.16" >(n = 96, events: 45)</text>
<text transform="translate(166,208.5) scale(0.98,1)" font-size="6.25" text-anchor="middle" fill="#000" stroke="#000" stroke-width="0.16" >Median OS 42.1 m</text>
<text transform="translate(166,218.5) scale(0.98,1)" font-size="6.25" text-anchor="middle" fill="#eeaab8" stroke="#eeaab8" stroke-width="0.16"><tspan font-style="italic">RAS</tspan><tspan font-size="3.7" dy="-2.4">WT</tspan><tspan dy="2.4"> </tspan>MP-CMML</text>
<text transform="translate(166,224.6) scale(0.98,1)" font-size="6.25" text-anchor="middle" fill="#000" stroke="#000" stroke-width="0.16" >(n = 52, events: 18)</text>
<text transform="translate(166,232.1) scale(0.98,1)" font-size="6.25" text-anchor="middle" fill="#000" stroke="#000" stroke-width="0.16" >Median OS 26.2 m</text>
<text transform="translate(166,241.7) scale(0.98,1)" font-size="6.25" text-anchor="middle" fill="#cc1a46" stroke="#cc1a46" stroke-width="0.16"><tspan font-style="italic">RAS</tspan><tspan font-size="3.7" dy="-2.4">MT</tspan><tspan dy="2.4"> </tspan>MP-CMML</text>
<text transform="translate(166,247.8) scale(0.98,1)" font-size="6.25" text-anchor="middle" fill="#000" stroke="#000" stroke-width="0.16" >(n = 151, events: 69)</text>
<text transform="translate(166,255.3) scale(0.98,1)" font-size="6.25" text-anchor="middle" fill="#000" stroke="#000" stroke-width="0.16" >Median OS 35.5 m</text>
<path d="M194.2,166.2 L198.4,166.2 L198.4,208.4 L194.2,208.4" fill="none" stroke="#333" stroke-width="0.8"/>
<path d="M194.2,213.4 L198.4,213.4 L198.4,256 L194.2,256" fill="none" stroke="#333" stroke-width="0.8"/>
<path d="M137.4,190.3 L133.6,190.3 L133.6,255.8 L137.4,255.8" fill="none" stroke="#333" stroke-width="0.8"/>
<text transform="translate(227.9,181.4) scale(0.98,1)" font-size="6.25" text-anchor="middle" fill="#000" stroke="#000" stroke-width="0.16" >HR 1.79</text>
<text transform="translate(227.9,188.75) scale(0.98,1)" font-size="6.25" text-anchor="middle" fill="#000" stroke="#000" stroke-width="0.16" >(95% CI 1.14-2.82)</text>
<text transform="translate(227.9,196.1) scale(0.98,1)" font-size="6.25" text-anchor="middle" fill="#000" stroke="#000" stroke-width="0.16" ><tspan font-style="italic">P</tspan> = .0104</text>
<text transform="translate(227.9,229.3) scale(0.98,1)" font-size="6.25" text-anchor="middle" fill="#000" stroke="#000" stroke-width="0.16" >HR 0.87</text>
<text transform="translate(227.9,236.6) scale(0.98,1)" font-size="6.25" text-anchor="middle" fill="#000" stroke="#000" stroke-width="0.16" >(95% CI 0.50-1.49)</text>
<text transform="translate(227.9,243.9) scale(0.98,1)" font-size="6.25" text-anchor="middle" fill="#000" stroke="#000" stroke-width="0.16" ><tspan font-style="italic">P</tspan> = .5865</text>
<text x="266.25" y="175.5" font-size="10.3" font-weight="bold" fill="#000" stroke="#000" stroke-width="0.5">D</text>
<line x1="298.2" y1="184.25" x2="298.2" y2="304" stroke="#111" stroke-width="1.25"/>
<line x1="295.2" y1="303.5" x2="298.2" y2="303.5" stroke="#111" stroke-width="0.9"/>
<text transform="translate(292,305.55) scale(1.01,1)" font-size="5.8" text-anchor="end" fill="#111" stroke="#111" stroke-width="0.16" >0</text>
<line x1="295.2" y1="291.68" x2="298.2" y2="291.68" stroke="#111" stroke-width="0.9"/>
<text transform="translate(292,293.73) scale(1.01,1)" font-size="5.8" text-anchor="end" fill="#111" stroke="#111" stroke-width="0.16" >10</text>
<line x1="295.2" y1="279.85" x2="298.2" y2="279.85" stroke="#111" stroke-width="0.9"/>
<text transform="translate(292,281.9) scale(1.01,1)" font-size="5.8" text-anchor="end" fill="#111" stroke="#111" stroke-width="0.16" >20</text>
<line x1="295.2" y1="268.02" x2="298.2" y2="268.02" stroke="#111" stroke-width="0.9"/>
<text transform="translate(292,270.07) scale(1.01,1)" font-size="5.8" text-anchor="end" fill="#111" stroke="#111" stroke-width="0.16" >30</text>
<line x1="295.2" y1="256.2" x2="298.2" y2="256.2" stroke="#111" stroke-width="0.9"/>
<text transform="translate(292,258.25) scale(1.01,1)" font-size="5.8" text-anchor="end" fill="#111" stroke="#111" stroke-width="0.16" >40</text>
<line x1="295.2" y1="244.38" x2="298.2" y2="244.38" stroke="#111" stroke-width="0.9"/>
<text transform="translate(292,246.43) scale(1.01,1)" font-size="5.8" text-anchor="end" fill="#111" stroke="#111" stroke-width="0.16" >50</text>
<line x1="295.2" y1="232.55" x2="298.2" y2="232.55" stroke="#111" stroke-width="0.9"/>
<text transform="translate(292,234.6) scale(1.01,1)" font-size="5.8" text-anchor="end" fill="#111" stroke="#111" stroke-width="0.16" >60</text>
<line x1="295.2" y1="220.72" x2="298.2" y2="220.72" stroke="#111" stroke-width="0.9"/>
<text transform="translate(292,222.78) scale(1.01,1)" font-size="5.8" text-anchor="end" fill="#111" stroke="#111" stroke-width="0.16" >70</text>
<line x1="295.2" y1="208.9" x2="298.2" y2="208.9" stroke="#111" stroke-width="0.9"/>
<text transform="translate(292,210.95) scale(1.01,1)" font-size="5.8" text-anchor="end" fill="#111" stroke="#111" stroke-width="0.16" >80</text>
<line x1="295.2" y1="197.07" x2="298.2" y2="197.07" stroke="#111" stroke-width="0.9"/>
<text transform="translate(292,199.12) scale(1.01,1)" font-size="5.8" text-anchor="end" fill="#111" stroke="#111" stroke-width="0.16" >90</text>
<line x1="295.2" y1="185.25" x2="298.2" y2="185.25" stroke="#111" stroke-width="0.9"/>
<text transform="translate(292,187.3) scale(1.01,1)" font-size="5.8" text-anchor="end" fill="#111" stroke="#111" stroke-width="0.16" >100</text>
<line x1="295.6" y1="303.5" x2="467.6" y2="303.5" stroke="#111" stroke-width="1.2"/>
<line x1="298.2" y1="303.5" x2="298.2" y2="305.7" stroke="#111" stroke-width="0.9"/>
<text transform="translate(298.4,314.8) scale(1.01,1)" font-size="5.8" text-anchor="middle" fill="#111" stroke="#111" stroke-width="0.16" >0</text>
<line x1="311.75" y1="303.5" x2="311.75" y2="305.7" stroke="#111" stroke-width="0.9"/>
<text transform="translate(311.95,314.8) scale(1.01,1)" font-size="5.8" text-anchor="middle" fill="#111" stroke="#111" stroke-width="0.16" >12</text>
<line x1="325.3" y1="303.5" x2="325.3" y2="305.7" stroke="#111" stroke-width="0.9"/>
<text transform="translate(325.5,314.8) scale(1.01,1)" font-size="5.8" text-anchor="middle" fill="#111" stroke="#111" stroke-width="0.16" >24</text>
<line x1="338.85" y1="303.5" x2="338.85" y2="305.7" stroke="#111" stroke-width="0.9"/>
<text transform="translate(339.05,314.8) scale(1.01,1)" font-size="5.8" text-anchor="middle" fill="#111" stroke="#111" stroke-width="0.16" >36</text>
<line x1="352.4" y1="303.5" x2="352.4" y2="305.7" stroke="#111" stroke-width="0.9"/>
<text transform="translate(352.6,314.8) scale(1.01,1)" font-size="5.8" text-anchor="middle" fill="#111" stroke="#111" stroke-width="0.16" >48</text>
<line x1="365.95" y1="303.5" x2="365.95" y2="305.7" stroke="#111" stroke-width="0.9"/>
<text transform="translate(366.15,314.8) scale(1.01,1)" font-size="5.8" text-anchor="middle" fill="#111" stroke="#111" stroke-width="0.16" >60</text>
<line x1="379.5" y1="303.5" x2="379.5" y2="305.7" stroke="#111" stroke-width="0.9"/>
<text transform="translate(379.7,314.8) scale(1.01,1)" font-size="5.8" text-anchor="middle" fill="#111" stroke="#111" stroke-width="0.16" >72</text>
<line x1="393.05" y1="303.5" x2="393.05" y2="305.7" stroke="#111" stroke-width="0.9"/>
<text transform="translate(393.25,314.8) scale(1.01,1)" font-size="5.8" text-anchor="middle" fill="#111" stroke="#111" stroke-width="0.16" >84</text>
<line x1="406.6" y1="303.5" x2="406.6" y2="305.7" stroke="#111" stroke-width="0.9"/>
<text transform="translate(406.8,314.8) scale(1.01,1)" font-size="5.8" text-anchor="middle" fill="#111" stroke="#111" stroke-width="0.16" >96</text>
<line x1="420.15" y1="303.5" x2="420.15" y2="305.7" stroke="#111" stroke-width="0.9"/>
<text transform="translate(420.35,314.8) scale(1.01,1)" font-size="5.8" text-anchor="middle" fill="#111" stroke="#111" stroke-width="0.16" >108</text>
<line x1="433.7" y1="303.5" x2="433.7" y2="305.7" stroke="#111" stroke-width="0.9"/>
<text transform="translate(433.9,314.8) scale(1.01,1)" font-size="5.8" text-anchor="middle" fill="#111" stroke="#111" stroke-width="0.16" >120</text>
<line x1="447.25" y1="303.5" x2="447.25" y2="305.7" stroke="#111" stroke-width="0.9"/>
<text transform="translate(447.45,314.8) scale(1.01,1)" font-size="5.8" text-anchor="middle" fill="#111" stroke="#111" stroke-width="0.16" >132</text>
<line x1="460.8" y1="303.5" x2="460.8" y2="305.7" stroke="#111" stroke-width="0.9"/>
<text transform="translate(461,314.8) scale(1.01,1)" font-size="5.8" text-anchor="middle" fill="#111" stroke="#111" stroke-width="0.16" >144</text>
<text x="382.9" y="326.3" font-size="7.6" text-anchor="middle" fill="#111" stroke="#111" stroke-width="0.34" textLength="36.6" lengthAdjust="spacingAndGlyphs">Time (months)</text>
<text transform="translate(280,244.38) rotate(-90)" x="0" y="0" font-size="7.7" text-anchor="middle" fill="#111" stroke="#111" stroke-width="0.32" textLength="90.6" lengthAdjust="spacingAndGlyphs">Probability of leukemia-free survival</text>
<path d="M298.25,184.5 L300.89,184.5 L300.89,193.2 L302.9,193.2 L302.9,195.6 L304.45,195.6 L304.45,199.89 L305.51,199.89 L305.51,201.5 L306,201.5 L306,202 L308.1,202 L308.1,206 L309.34,206 L309.34,209.18 L310.7,209.18 L310.7,210.3 L315,210.3 L315,212.9 L318,212.9 L318.5,223.3 L320.2,230.2 L322,237.1 L322.8,250.9 L349.8,250.9 L349.8,263.9 L352,263.9 L352,264.8 L360,264.8 L360,303.5" fill="none" stroke="#f0a2b3" stroke-width="0.9" stroke-linejoin="miter" stroke-linecap="butt" opacity="1"/>
<path d="M298.25,184.5 L299.49,184.5 L299.49,187.21 L301.13,187.21 L301.13,189.01 L302.21,189.01 L302.21,191.36 L304.7,191.36 L304.7,193 L306.34,193 L306.34,194.53 L307.65,194.53 L307.65,195.68 L309.8,195.68 L309.8,196.4 L313,196.4 L313,199.23 L315,199.23 L315,199.9 L316.62,199.9 L316.62,201.44 L317.97,201.44 L317.97,202.65 L320.2,202.65 L320.2,203.4 L322.57,203.4 L322.57,206.53 L325.4,206.53 L325.4,207.7 L326.61,207.7 L326.61,209.16 L327.74,209.16 L327.74,210.82 L330.6,210.82 L330.6,212 L332.62,212 L332.62,214.6 L333.78,214.6 L333.78,215.74 L334.9,215.74 L334.9,216.3 L337.43,216.3 L337.43,219.76 L339.3,219.76 L339.3,220.7 L340.49,220.7 L340.49,223.42 L343.55,223.42 L343.55,225.38 L344.4,225.38 L344.4,225.8 L347.48,225.8 L347.48,227.87 L349.6,227.87 L349.6,228.4 L351.41,228.4 L351.41,229.89 L353.74,229.89 L353.74,230.73 L354.8,230.73 L354.8,231 L356.44,231 L356.44,234.59 L357.4,234.59 L357.4,235.4 L359.2,235.4 L359.2,238 L372.1,238 L372.1,245.7 L382.5,245.7 L384.07,245.7 L384.07,251.31 L385.1,251.31 L385.1,252.7 L386.48,252.7 L386.48,257.1 L387.59,257.1 L387.59,259.68 L388.75,259.68 L388.75,261 L390.5,261 L390.5,261.52 L392.22,261.52 L392.22,261.97 L395,261.97 L395,262.25 L395,272.25 L451.25,272.25" fill="none" stroke="#93a281" stroke-width="1.0" stroke-linejoin="miter" stroke-linecap="butt" opacity="1"/>
<path d="M298.25,184.5 L300.1,184.5 L300.1,190.11 L301.1,190.11 L301.1,193.45 L302.9,193.45 L302.9,195.6 L305.04,195.6 L305.04,201.16 L306.4,201.16 L306.4,202.5 L307.88,202.5 L307.88,209.24 L309,209.24 L309,211.1 L310,211.1 L310,215.95 L311.6,215.95 L311.6,218.1 L312.81,218.1 L312.81,223.93 L315,223.93 L315,226.7 L316.09,226.7 L316.09,229.88 L317.14,229.88 L317.14,232.25 L318.5,232.25 L318.5,233.6 L320.05,233.6 L320.05,237.11 L321.1,237.11 L321.1,238 L323.37,238 L323.37,241.59 L324.5,241.59 L324.5,242.3 L327.08,242.3 L327.08,246.82 L328,246.82 L328,247.5 L331.12,247.5 L331.12,248.97 L332.3,248.97 L332.3,249.2 L334.08,249.2 L334.08,250.48 L335.8,250.48 L335.8,250.9 L337.15,250.9 L337.15,253.33 L339.3,253.33 L339.3,254.4 L341.85,254.4 L341.85,258.95 L342.7,258.95 L342.7,259.6 L345.71,259.6 L345.71,261.05 L347,261.05 L347,261.3 L349.6,261.3 L349.6,268.2 L368.7,268.6 L371.47,268.6 L371.47,271.41 L372.1,271.41 L372.1,271.7 L373.43,271.7 L373.43,274.11 L375.6,274.11 L375.6,275.2 L377.81,275.2 L377.81,275.77 L380.8,275.77 L380.8,276 L383.74,276 L383.74,277.41 L386,277.41 L386,277.8 L388.4,277.8 L388.4,278.76 L390,278.76 L390,279 L405,279 L405,289 L427.5,289 L427.5,293.5 L430,293.5 L430,298.5 L458.75,298.5" fill="none" stroke="#d0164c" stroke-width="1.5" stroke-linejoin="miter" stroke-linecap="butt" opacity="1"/>
<path d="M298.25,184.5 L299.94,184.5 L299.94,189.6 L302.14,189.6 L302.14,192.31 L302.9,192.31 L302.9,193 L304.73,193 L304.73,195.88 L305.76,195.88 L305.76,196.91 L306.4,196.91 L306.4,197.3 L307.43,197.3 L307.43,200.69 L309.8,200.69 L309.8,202.5 L312.12,202.5 L312.12,205.41 L313.3,205.41 L313.3,206 L315.44,206 L315.44,207.37 L316.8,207.37 L316.8,207.7 L318.05,207.7 L318.05,211.25 L320.2,211.25 L320.2,212.9 L322.24,212.9 L322.24,218.36 L323.7,218.36 L323.7,219.8 L326.3,219.8 L326.3,224.1 L328.24,224.1 L328.24,229.43 L328.9,229.43 L328.9,230.2 L331.5,230.2 L331.5,234.5 L334.1,234.5 L334.1,238 L335.92,238 L335.92,240 L337.5,240 L337.5,240.6 L340.2,240.6 L340.2,241.98 L341.8,241.98 L341.8,242.3 L343.77,242.3 L343.77,242.9 L345.8,242.9 L345.8,243.1 L345.8,250.5 L346.92,250.5 L346.92,250.37 L348.23,250.37 L348.23,250.29 L349.39,250.29 L349.39,250.17 L351.4,250.17 L351.4,250.1 L353.01,250.1 L353.01,250.31 L354.39,250.31 L354.39,250.43 L355.59,250.43 L355.59,250.63 L358.61,250.63 L358.61,250.84 L360,250.84 L360,250.9 L362.61,250.9 L362.61,252.35 L364.3,252.35 L364.3,252.7 L365.88,252.7 L365.88,255.17 L367.8,255.17 L367.8,256.1 L369.9,256.1 L369.9,260.8 L370.4,260.8 L370.4,261.3 L372.47,261.3 L372.47,264.72 L373.9,264.72 L373.9,265.6 L377.3,265.6 L377.3,267.4 L380.8,267.4 L384.2,267.4 L384.2,271.7 L386.51,271.7 L386.51,272.13 L388.1,272.13 L388.1,272.37 L390,272.37 L390,272.5 L391.25,272.5 L391.25,277.25 L415,277.25 L415,283 L437.5,283 L437.5,289.75 L442.5,289.75 L442.5,296 L467.5,296" fill="none" stroke="#16ab4e" stroke-width="1.5" stroke-linejoin="miter" stroke-linecap="butt" opacity="1"/>
<text transform="translate(363.4,224.3) scale(0.98,1)" font-size="6.25" text-anchor="start" fill="#000" stroke="#000" stroke-width="0.16" ><tspan font-style="italic">P</tspan> = .0888</text>
<text transform="translate(426.25,171.3) scale(0.98,1)" font-size="6.25" text-anchor="middle" fill="#a9bd98" stroke="#a9bd98" stroke-width="0.16"><tspan font-style="italic">RAS</tspan><tspan font-size="3.7" dy="-2.4">WT</tspan><tspan dy="2.4"> </tspan>MD-CMML</text>
<text transform="translate(426.25,177.4) scale(0.98,1)" font-size="6.25" text-anchor="middle" fill="#000" stroke="#000" stroke-width="0.16" >(n = 117, events: 33)</text>
<text transform="translate(426.25,184.9) scale(0.98,1)" font-size="6.25" text-anchor="middle" fill="#000" stroke="#000" stroke-width="0.16" >Median LFS 65.7 m</text>
<text transform="translate(426.25,194.7) scale(0.98,1)" font-size="6.25" text-anchor="middle" fill="#46b268" stroke="#46b268" stroke-width="0.16"><tspan font-style="italic">RAS</tspan><tspan font-size="3.7" dy="-2.4">MT</tspan><tspan dy="2.4"> </tspan>MD-CMML</text>
<text transform="translate(426.25,200.8) scale(0.98,1)" font-size="6.25" text-anchor="middle" fill="#000" stroke="#000" stroke-width="0.16" >(n = 96, events: 46)</text>
<text transform="translate(426.25,208.3) scale(0.98,1)" font-size="6.25" text-anchor="middle" fill="#000" stroke="#000" stroke-width="0.16" >Median LFS 42.1 m</text>
<text transform="translate(426.25,218.3) scale(0.98,1)" font-size="6.25" text-anchor="middle" fill="#eeaab8" stroke="#eeaab8" stroke-width="0.16"><tspan font-style="italic">RAS</tspan><tspan font-size="3.7" dy="-2.4">WT</tspan><tspan dy="2.4"> </tspan>MP-CMML</text>
<text transform="translate(426.25,224.4) scale(0.98,1)" font-size="6.25" text-anchor="middle" fill="#000" stroke="#000" stroke-width="0.16" >(n = 52, events: 19)</text>
<text transform="translate(426.25,231.9) scale(0.98,1)" font-size="6.25" text-anchor="middle" fill="#000" stroke="#000" stroke-width="0.16" >Median LFS 21.6 m</text>
<text transform="translate(426.25,241.6) scale(0.98,1)" font-size="6.25" text-anchor="middle" fill="#cc1a46" stroke="#cc1a46" stroke-width="0.16"><tspan font-style="italic">RAS</tspan><tspan font-size="3.7" dy="-2.4">MT</tspan><tspan dy="2.4"> </tspan>MP-CMML</text>
<text transform="translate(426.25,247.7) scale(0.98,1)" font-size="6.25" text-anchor="middle" fill="#000" stroke="#000" stroke-width="0.16" >(n = 151, events: 83)</text>
<text transform="translate(426.25,255.2) scale(0.98,1)" font-size="6.25" text-anchor="middle" fill="#000" stroke="#000" stroke-width="0.16" >Median LFS 25.2 m</text>
<path d="M454.2,166.2 L458.4,166.2 L458.4,208.5 L454.2,208.5" fill="none" stroke="#333" stroke-width="0.8"/>
<path d="M454.2,214.5 L458.4,214.5 L458.4,256 L454.2,256" fill="none" stroke="#333" stroke-width="0.8"/>
<path d="M396.5,190 L392.7,190 L392.7,255.6 L396.5,255.6" fill="none" stroke="#333" stroke-width="0.8"/>
<text transform="translate(487.5,181.3) scale(0.98,1)" font-size="6.25" text-anchor="middle" fill="#000" stroke="#000" stroke-width="0.16" >HR 1.62</text>
<text transform="translate(487.5,188.55) scale(0.98,1)" font-size="6.25" text-anchor="middle" fill="#000" stroke="#000" stroke-width="0.16" >(95% CI 1.04-2.52)</text>
<text transform="translate(487.5,195.8) scale(0.98,1)" font-size="6.25" text-anchor="middle" fill="#000" stroke="#000" stroke-width="0.16" ><tspan font-style="italic">P</tspan> = .0297</text>
<text transform="translate(487.5,229.2) scale(0.98,1)" font-size="6.25" text-anchor="middle" fill="#000" stroke="#000" stroke-width="0.16" >HR 1.07</text>
<text transform="translate(487.5,236.5) scale(0.98,1)" font-size="6.25" text-anchor="middle" fill="#000" stroke="#000" stroke-width="0.16" >(95% CI 0.66-1.74)</text>
<text transform="translate(487.5,243.8) scale(0.98,1)" font-size="6.25" text-anchor="middle" fill="#000" stroke="#000" stroke-width="0.16" ><tspan font-style="italic">P</tspan> = .7775</text>
<text x="7" y="344" font-size="10.3" font-weight="bold" fill="#000" stroke="#000" stroke-width="0.5">E</text>
<line x1="35.6" y1="359.25" x2="35.6" y2="478.75" stroke="#111" stroke-width="1.25"/>
<line x1="32.6" y1="478.25" x2="35.6" y2="478.25" stroke="#111" stroke-width="0.9"/>
<text transform="translate(29.4,480.3) scale(1.01,1)" font-size="5.8" text-anchor="end" fill="#111" stroke="#111" stroke-width="0.16" >0</text>
<line x1="32.6" y1="466.45" x2="35.6" y2="466.45" stroke="#111" stroke-width="0.9"/>
<text transform="translate(29.4,468.5) scale(1.01,1)" font-size="5.8" text-anchor="end" fill="#111" stroke="#111" stroke-width="0.16" >10</text>
<line x1="32.6" y1="454.65" x2="35.6" y2="454.65" stroke="#111" stroke-width="0.9"/>
<text transform="translate(29.4,456.7) scale(1.01,1)" font-size="5.8" text-anchor="end" fill="#111" stroke="#111" stroke-width="0.16" >20</text>
<line x1="32.6" y1="442.85" x2="35.6" y2="442.85" stroke="#111" stroke-width="0.9"/>
<text transform="translate(29.4,444.9) scale(1.01,1)" font-size="5.8" text-anchor="end" fill="#111" stroke="#111" stroke-width="0.16" >30</text>
<line x1="32.6" y1="431.05" x2="35.6" y2="431.05" stroke="#111" stroke-width="0.9"/>
<text transform="translate(29.4,433.1) scale(1.01,1)" font-size="5.8" text-anchor="end" fill="#111" stroke="#111" stroke-width="0.16" >40</text>
<line x1="32.6" y1="419.25" x2="35.6" y2="419.25" stroke="#111" stroke-width="0.9"/>
<text transform="translate(29.4,421.3) scale(1.01,1)" font-size="5.8" text-anchor="end" fill="#111" stroke="#111" stroke-width="0.16" >50</text>
<line x1="32.6" y1="407.45" x2="35.6" y2="407.45" stroke="#111" stroke-width="0.9"/>
<text transform="translate(29.4,409.5) scale(1.01,1)" font-size="5.8" text-anchor="end" fill="#111" stroke="#111" stroke-width="0.16" >60</text>
<line x1="32.6" y1="395.65" x2="35.6" y2="395.65" stroke="#111" stroke-width="0.9"/>
<text transform="translate(29.4,397.7) scale(1.01,1)" font-size="5.8" text-anchor="end" fill="#111" stroke="#111" stroke-width="0.16" >70</text>
<line x1="32.6" y1="383.85" x2="35.6" y2="383.85" stroke="#111" stroke-width="0.9"/>
<text transform="translate(29.4,385.9) scale(1.01,1)" font-size="5.8" text-anchor="end" fill="#111" stroke="#111" stroke-width="0.16" >80</text>
<line x1="32.6" y1="372.05" x2="35.6" y2="372.05" stroke="#111" stroke-width="0.9"/>
<text transform="translate(29.4,374.1) scale(1.01,1)" font-size="5.8" text-anchor="end" fill="#111" stroke="#111" stroke-width="0.16" >90</text>
<line x1="32.6" y1="360.25" x2="35.6" y2="360.25" stroke="#111" stroke-width="0.9"/>
<text transform="translate(29.4,362.3) scale(1.01,1)" font-size="5.8" text-anchor="end" fill="#111" stroke="#111" stroke-width="0.16" >100</text>
<line x1="33" y1="478.25" x2="205" y2="478.25" stroke="#111" stroke-width="1.2"/>
<line x1="35.6" y1="478.25" x2="35.6" y2="480.45" stroke="#111" stroke-width="0.9"/>
<text transform="translate(35.8,489.55) scale(1.01,1)" font-size="5.8" text-anchor="middle" fill="#111" stroke="#111" stroke-width="0.16" >0</text>
<line x1="49.15" y1="478.25" x2="49.15" y2="480.45" stroke="#111" stroke-width="0.9"/>
<text transform="translate(49.35,489.55) scale(1.01,1)" font-size="5.8" text-anchor="middle" fill="#111" stroke="#111" stroke-width="0.16" >12</text>
<line x1="62.7" y1="478.25" x2="62.7" y2="480.45" stroke="#111" stroke-width="0.9"/>
<text transform="translate(62.9,489.55) scale(1.01,1)" font-size="5.8" text-anchor="middle" fill="#111" stroke="#111" stroke-width="0.16" >24</text>
<line x1="76.25" y1="478.25" x2="76.25" y2="480.45" stroke="#111" stroke-width="0.9"/>
<text transform="translate(76.45,489.55) scale(1.01,1)" font-size="5.8" text-anchor="middle" fill="#111" stroke="#111" stroke-width="0.16" >36</text>
<line x1="89.8" y1="478.25" x2="89.8" y2="480.45" stroke="#111" stroke-width="0.9"/>
<text transform="translate(90,489.55) scale(1.01,1)" font-size="5.8" text-anchor="middle" fill="#111" stroke="#111" stroke-width="0.16" >48</text>
<line x1="103.35" y1="478.25" x2="103.35" y2="480.45" stroke="#111" stroke-width="0.9"/>
<text transform="translate(103.55,489.55) scale(1.01,1)" font-size="5.8" text-anchor="middle" fill="#111" stroke="#111" stroke-width="0.16" >60</text>
<line x1="116.9" y1="478.25" x2="116.9" y2="480.45" stroke="#111" stroke-width="0.9"/>
<text transform="translate(117.1,489.55) scale(1.01,1)" font-size="5.8" text-anchor="middle" fill="#111" stroke="#111" stroke-width="0.16" >72</text>
<line x1="130.45" y1="478.25" x2="130.45" y2="480.45" stroke="#111" stroke-width="0.9"/>
<text transform="translate(130.65,489.55) scale(1.01,1)" font-size="5.8" text-anchor="middle" fill="#111" stroke="#111" stroke-width="0.16" >84</text>
<line x1="144" y1="478.25" x2="144" y2="480.45" stroke="#111" stroke-width="0.9"/>
<text transform="translate(144.2,489.55) scale(1.01,1)" font-size="5.8" text-anchor="middle" fill="#111" stroke="#111" stroke-width="0.16" >96</text>
<line x1="157.55" y1="478.25" x2="157.55" y2="480.45" stroke="#111" stroke-width="0.9"/>
<text transform="translate(157.75,489.55) scale(1.01,1)" font-size="5.8" text-anchor="middle" fill="#111" stroke="#111" stroke-width="0.16" >108</text>
<line x1="171.1" y1="478.25" x2="171.1" y2="480.45" stroke="#111" stroke-width="0.9"/>
<text transform="translate(171.3,489.55) scale(1.01,1)" font-size="5.8" text-anchor="middle" fill="#111" stroke="#111" stroke-width="0.16" >120</text>
<line x1="184.65" y1="478.25" x2="184.65" y2="480.45" stroke="#111" stroke-width="0.9"/>
<text transform="translate(184.85,489.55) scale(1.01,1)" font-size="5.8" text-anchor="middle" fill="#111" stroke="#111" stroke-width="0.16" >132</text>
<line x1="198.2" y1="478.25" x2="198.2" y2="480.45" stroke="#111" stroke-width="0.9"/>
<text transform="translate(198.4,489.55) scale(1.01,1)" font-size="5.8" text-anchor="middle" fill="#111" stroke="#111" stroke-width="0.16" >144</text>
<text x="120.3" y="501.05" font-size="7.6" text-anchor="middle" fill="#111" stroke="#111" stroke-width="0.34" textLength="36.6" lengthAdjust="spacingAndGlyphs">Time (months)</text>
<text transform="translate(17.8,418.95) rotate(-90)" x="0" y="0" font-size="7.7" text-anchor="middle" fill="#111" stroke="#111" stroke-width="0.32" textLength="90.6" lengthAdjust="spacingAndGlyphs">Probability of leukemia-free survival</text>
<path d="M35.75,360.3 L38.2,360.3 L38.2,367.1 L41.22,367.1 L41.22,375.2 L41.7,375.2 L41.7,375.8 L45.1,375.8 L45.1,384.4 L47.82,384.4 L47.82,390.53 L48.6,390.53 L48.6,391.3 L50.29,391.3 L50.29,396.54 L52,396.54 L52,398.3 L53.94,398.3 L53.94,403.66 L55.5,403.66 L55.5,405.2 L57.92,405.2 L57.92,411.03 L59,411.03 L59,412.1 L61.03,412.1 L61.03,417.61 L62.4,417.61 L62.4,419 L63.51,419 L63.51,421.12 L64.74,421.12 L64.74,422.59 L65.9,422.59 L65.9,423.3 L67.58,423.3 L67.58,424.55 L70.2,424.55 L70.2,425.1 L71.79,425.1 L71.79,426.56 L73.43,426.56 L73.43,427.38 L74.5,427.38 L74.5,427.7 L75.95,427.7 L75.95,430.1 L78,430.1 L78,431.1 L81.4,431.1 L81.4,436.3 L84.9,436.3 L84.9,438 L87.85,438 L87.85,441.23 L88.4,441.23 L88.4,441.5 L91.6,441.5 L91.6,445.25 L92.7,445.25 L92.7,445.8 L95.02,445.8 L95.02,449.19 L97,449.19 L97,450.2 L98.11,450.2 L98.11,451.01 L100.87,451.01 L100.87,451.68 L102.2,451.68 L102.2,451.9 L105.01,451.9 L105.01,452.91 L107.56,452.91 L107.56,453.41 L109.1,453.41 L109.1,453.6 L110.21,453.6 L110.21,455.27 L113.44,455.27 L113.44,456.65 L114.74,456.65 L114.74,457.38 L115.8,457.38 L115.8,457.7 L117.62,457.7 L117.62,458.59 L119.33,458.59 L119.33,459.24 L121.5,459.24 L121.5,459.6 L124.85,459.6 L124.85,460.63 L126.47,460.63 L126.47,461.16 L129.2,461.16 L129.2,461.5 L130.92,461.5 L130.92,462 L133.26,462 L133.26,462.35 L135,462.35 L135,462.5 L136.39,462.5 L136.39,463.2 L137.78,463.2 L137.78,463.67 L139.27,463.67 L139.27,464.45 L142.45,464.45 L142.45,465.19 L143.7,465.19 L143.7,465.4 L145.22,465.4 L145.22,465.67 L148.41,465.67 L148.41,465.95 L151.81,465.95 L151.81,466.2 L154.2,466.2 L154.2,466.3 L155.53,466.3 L155.53,466.73 L156.98,466.73 L156.98,467.01 L158.19,467.01 L158.19,467.32 L160.01,467.32 L160.01,467.64 L161.22,467.64 L161.22,467.93 L162.79,467.93 L162.79,468.19 L163.8,468.19 L163.8,468.3 L166.17,468.3 L166.17,469.28 L169.31,469.28 L169.31,470.03 L172.11,470.03 L172.11,470.63 L174.1,470.63 L174.1,471.04 L175.4,471.04 L175.4,471.2 L177.3,471.2 L177.3,472.7 L204.2,472.7 L204.2,478" fill="none" stroke="#e98ba3" stroke-width="1.15" stroke-linejoin="miter" stroke-linecap="butt" opacity="1"/>
<path d="M35.75,360.3 L48.6,360.3 L48.6,372.3 L52.9,372.3 L52.9,383.5 L56.4,383.5 L56.4,397.4 L59,397.4 L59,410.4 L65,410.4 L65,423.3 L68.5,423.3 L68.5,428.5 L71.1,428.5 L71.1,451.5 L167.7,451.5" fill="none" stroke="#93a281" stroke-width="1.0" stroke-linejoin="miter" stroke-linecap="butt" opacity="1"/>
<path d="M35.75,360.3 L36.8,366.3 L37.6,372 L38.2,379.2 L40.2,379.2 L40.2,389.6 L42.8,389.6 L42.8,410.4 L45.8,410.4 L45.8,438 L49.4,438 L49.4,451.6 L122.5,451.6" fill="none" stroke="#d0164c" stroke-width="1.3" stroke-linejoin="miter" stroke-linecap="butt" opacity="1"/>
<path d="M35.75,359.5 L38.2,359.5 L38.2,365.4 L40.71,365.4 L40.71,369.86 L41.7,369.86 L41.7,370.6 L44.34,370.6 L44.34,374.79 L46,374.79 L46,375.8 L47,375.8 L47,377.89 L50.3,377.89 L50.3,379.2 L53.1,379.2 L53.1,382.75 L54.6,382.75 L54.6,383.5 L56.89,383.5 L56.89,386.84 L59,386.84 L59,387.9 L60.15,387.9 L60.15,391.7 L63.3,391.7 L63.3,393.9 L64.9,393.9 L64.9,396.54 L66.07,396.54 L66.07,398.18 L67.6,398.18 L67.6,399.1 L70.35,399.1 L70.35,403.37 L71.9,403.37 L71.9,404.3 L74.68,404.3 L74.68,407.81 L76.3,407.81 L76.3,408.6 L78.49,408.6 L78.49,411.92 L80.6,411.92 L80.6,413 L82.75,413 L82.75,415.55 L84.9,415.55 L84.9,416.4 L87.75,416.4 L87.75,418.56 L89.2,418.56 L89.2,419 L91.75,419 L91.75,420.21 L92.92,420.21 L92.92,420.57 L93.6,420.57 L93.6,420.7 L95.2,420.7 L95.2,421.23 L97.99,421.23 L97.99,421.54 L98.7,421.54 L98.7,421.6 L101.06,421.6 L101.06,422.19 L102.08,422.19 L102.08,422.4 L103.1,422.4 L103.1,422.5 L104.74,422.5 L104.74,424.62 L105.7,424.62 L105.7,425.1 L108.37,425.1 L108.37,428.13 L109.1,428.13 L109.1,428.5 L110.79,428.5 L110.79,430.43 L112.6,430.43 L112.6,431.1 L117.8,431.1 L119.91,431.1 L119.91,433.21 L121.2,433.21 L121.2,433.7 L122.48,433.7 L122.48,435.24 L123,435.24 L123,435.5 L124.47,435.5 L124.47,436.84 L127.3,436.84 L127.3,437.5 L130.56,437.5 L130.56,439.78 L131.59,439.78 L131.59,440.25 L132.1,440.25 L132.1,440.4 L135,440.4 L135,445.2 L138.33,445.2 L138.33,445.54 L140.41,445.54 L140.41,445.69 L142.05,445.69 L142.05,445.77 L142.7,445.77 L142.7,445.8 L145.98,445.8 L145.98,446.14 L147.5,446.14 L147.5,446.2 L149.9,446.2 L149.9,447.94 L150.4,447.94 L150.4,448.1 L152.66,448.1 L152.66,450.41 L154.2,450.41 L154.2,451 L155.51,451 L155.51,452.87 L158.1,452.87 L158.1,453.8 L160.32,453.8 L160.32,455.19 L163.8,455.19 L163.8,455.8 L166.49,455.8 L166.49,457.41 L167.7,457.41 L167.7,457.7 L170.86,457.7 L170.86,459.09 L173.03,459.09 L173.03,459.52 L173.5,459.52 L173.5,459.6 L174.5,459.6 L174.5,461.74 L176.68,461.74 L176.68,463.18 L177.3,463.18 L177.3,463.5 L179.02,463.5 L179.02,465.82 L180.35,465.82 L180.35,466.89 L181.2,466.89 L181.2,467.3 L182.95,467.3 L182.95,468.39 L185.98,468.39 L185.98,469.05 L186.9,469.05 L186.9,469.2 L204.2,469.4" fill="none" stroke="#16ab4e" stroke-width="1.7" stroke-linejoin="miter" stroke-linecap="butt" opacity="1"/>
<path d="M204.2,469.4 V467.5 M196,469.3 V467.4 M150,447.6 V445.7" stroke="#16ab4e" stroke-width="0.8" fill="none"/>
<path d="M62,451.6 V449.7 M80,451.6 V449.7 M122.5,451.6 V449.7" stroke="#d0164c" stroke-width="0.8" fill="none"/>
<text transform="translate(97,402.5) scale(0.98,1)" font-size="6.25" text-anchor="start" fill="#000" stroke="#000" stroke-width="0.16" ><tspan font-style="italic">P</tspan> &lt; .001</text>
<text transform="translate(158.75,347.1) scale(0.98,1)" font-size="6.25" text-anchor="middle" fill="#9ccc9c" stroke="#9ccc9c" stroke-width="0.16"><tspan font-style="italic">PTPN11</tspan><tspan font-size="3.7" dy="-2.4">WT</tspan><tspan dy="2.4"> </tspan>MD-CMML</text>
<text transform="translate(158.75,353.2) scale(0.98,1)" font-size="6.25" text-anchor="middle" fill="#000" stroke="#000" stroke-width="0.16" >(n = 416, events: 194)</text>
<text transform="translate(158.75,360.7) scale(0.98,1)" font-size="6.25" text-anchor="middle" fill="#000" stroke="#000" stroke-width="0.16" >Median LFS 45.1 m</text>
<text transform="translate(158.75,370.7) scale(0.98,1)" font-size="6.25" text-anchor="middle" fill="#46b268" stroke="#46b268" stroke-width="0.16"><tspan font-style="italic">PTPN11</tspan><tspan font-size="3.7" dy="-2.4">MT</tspan><tspan dy="2.4"> </tspan>MD-CMML</text>
<text transform="translate(158.75,376.8) scale(0.98,1)" font-size="6.25" text-anchor="middle" fill="#000" stroke="#000" stroke-width="0.16" >(n = 14, events: 7)</text>
<text transform="translate(158.75,384.3) scale(0.98,1)" font-size="6.25" text-anchor="middle" fill="#000" stroke="#000" stroke-width="0.16" >Median LFS 26.6 m</text>
<text transform="translate(158.75,393.7) scale(0.98,1)" font-size="6.25" text-anchor="middle" fill="#eeaab8" stroke="#eeaab8" stroke-width="0.16"><tspan font-style="italic">PTPN11</tspan><tspan font-size="3.7" dy="-2.4">WT</tspan><tspan dy="2.4"> </tspan>MP-CMML</text>
<text transform="translate(158.75,399.8) scale(0.98,1)" font-size="6.25" text-anchor="middle" fill="#000" stroke="#000" stroke-width="0.16" >(n = 369, events: 209)</text>
<text transform="translate(158.75,407.3) scale(0.98,1)" font-size="6.25" text-anchor="middle" fill="#000" stroke="#000" stroke-width="0.16" >Median LFS 22.5 m</text>
<text transform="translate(158.75,416.8) scale(0.98,1)" font-size="6.25" text-anchor="middle" fill="#cc1a46" stroke="#cc1a46" stroke-width="0.16"><tspan font-style="italic">PTPN11</tspan><tspan font-size="3.7" dy="-2.4">MT</tspan><tspan dy="2.4"> </tspan>MP-CMML</text>
<text transform="translate(158.75,422.9) scale(0.98,1)" font-size="6.25" text-anchor="middle" fill="#000" stroke="#000" stroke-width="0.16" >(n = 15, events: 8)</text>
<text transform="translate(158.75,430.4) scale(0.98,1)" font-size="6.25" text-anchor="middle" fill="#000" stroke="#000" stroke-width="0.16" >Median LFS 9.1 m</text>
<text x="267" y="344" font-size="10.3" font-weight="bold" fill="#000" stroke="#000" stroke-width="0.5">F</text>
<line x1="298.2" y1="359.25" x2="298.2" y2="478.75" stroke="#111" stroke-width="1.25"/>
<line x1="295.2" y1="478.25" x2="298.2" y2="478.25" stroke="#111" stroke-width="0.9"/>
<text transform="translate(292,480.3) scale(1.01,1)" font-size="5.8" text-anchor="end" fill="#111" stroke="#111" stroke-width="0.16" >0</text>
<line x1="295.2" y1="466.45" x2="298.2" y2="466.45" stroke="#111" stroke-width="0.9"/>
<text transform="translate(292,468.5) scale(1.01,1)" font-size="5.8" text-anchor="end" fill="#111" stroke="#111" stroke-width="0.16" >10</text>
<line x1="295.2" y1="454.65" x2="298.2" y2="454.65" stroke="#111" stroke-width="0.9"/>
<text transform="translate(292,456.7) scale(1.01,1)" font-size="5.8" text-anchor="end" fill="#111" stroke="#111" stroke-width="0.16" >20</text>
<line x1="295.2" y1="442.85" x2="298.2" y2="442.85" stroke="#111" stroke-width="0.9"/>
<text transform="translate(292,444.9) scale(1.01,1)" font-size="5.8" text-anchor="end" fill="#111" stroke="#111" stroke-width="0.16" >30</text>
<line x1="295.2" y1="431.05" x2="298.2" y2="431.05" stroke="#111" stroke-width="0.9"/>
<text transform="translate(292,433.1) scale(1.01,1)" font-size="5.8" text-anchor="end" fill="#111" stroke="#111" stroke-width="0.16" >40</text>
<line x1="295.2" y1="419.25" x2="298.2" y2="419.25" stroke="#111" stroke-width="0.9"/>
<text transform="translate(292,421.3) scale(1.01,1)" font-size="5.8" text-anchor="end" fill="#111" stroke="#111" stroke-width="0.16" >50</text>
<line x1="295.2" y1="407.45" x2="298.2" y2="407.45" stroke="#111" stroke-width="0.9"/>
<text transform="translate(292,409.5) scale(1.01,1)" font-size="5.8" text-anchor="end" fill="#111" stroke="#111" stroke-width="0.16" >60</text>
<line x1="295.2" y1="395.65" x2="298.2" y2="395.65" stroke="#111" stroke-width="0.9"/>
<text transform="translate(292,397.7) scale(1.01,1)" font-size="5.8" text-anchor="end" fill="#111" stroke="#111" stroke-width="0.16" >70</text>
<line x1="295.2" y1="383.85" x2="298.2" y2="383.85" stroke="#111" stroke-width="0.9"/>
<text transform="translate(292,385.9) scale(1.01,1)" font-size="5.8" text-anchor="end" fill="#111" stroke="#111" stroke-width="0.16" >80</text>
<line x1="295.2" y1="372.05" x2="298.2" y2="372.05" stroke="#111" stroke-width="0.9"/>
<text transform="translate(292,374.1) scale(1.01,1)" font-size="5.8" text-anchor="end" fill="#111" stroke="#111" stroke-width="0.16" >90</text>
<line x1="295.2" y1="360.25" x2="298.2" y2="360.25" stroke="#111" stroke-width="0.9"/>
<text transform="translate(292,362.3) scale(1.01,1)" font-size="5.8" text-anchor="end" fill="#111" stroke="#111" stroke-width="0.16" >100</text>
<line x1="295.6" y1="478.25" x2="467.6" y2="478.25" stroke="#111" stroke-width="1.2"/>
<line x1="298.2" y1="478.25" x2="298.2" y2="480.45" stroke="#111" stroke-width="0.9"/>
<text transform="translate(298.4,489.55) scale(1.01,1)" font-size="5.8" text-anchor="middle" fill="#111" stroke="#111" stroke-width="0.16" >0</text>
<line x1="311.75" y1="478.25" x2="311.75" y2="480.45" stroke="#111" stroke-width="0.9"/>
<text transform="translate(311.95,489.55) scale(1.01,1)" font-size="5.8" text-anchor="middle" fill="#111" stroke="#111" stroke-width="0.16" >12</text>
<line x1="325.3" y1="478.25" x2="325.3" y2="480.45" stroke="#111" stroke-width="0.9"/>
<text transform="translate(325.5,489.55) scale(1.01,1)" font-size="5.8" text-anchor="middle" fill="#111" stroke="#111" stroke-width="0.16" >24</text>
<line x1="338.85" y1="478.25" x2="338.85" y2="480.45" stroke="#111" stroke-width="0.9"/>
<text transform="translate(339.05,489.55) scale(1.01,1)" font-size="5.8" text-anchor="middle" fill="#111" stroke="#111" stroke-width="0.16" >36</text>
<line x1="352.4" y1="478.25" x2="352.4" y2="480.45" stroke="#111" stroke-width="0.9"/>
<text transform="translate(352.6,489.55) scale(1.01,1)" font-size="5.8" text-anchor="middle" fill="#111" stroke="#111" stroke-width="0.16" >48</text>
<line x1="365.95" y1="478.25" x2="365.95" y2="480.45" stroke="#111" stroke-width="0.9"/>
<text transform="translate(366.15,489.55) scale(1.01,1)" font-size="5.8" text-anchor="middle" fill="#111" stroke="#111" stroke-width="0.16" >60</text>
<line x1="379.5" y1="478.25" x2="379.5" y2="480.45" stroke="#111" stroke-width="0.9"/>
<text transform="translate(379.7,489.55) scale(1.01,1)" font-size="5.8" text-anchor="middle" fill="#111" stroke="#111" stroke-width="0.16" >72</text>
<line x1="393.05" y1="478.25" x2="393.05" y2="480.45" stroke="#111" stroke-width="0.9"/>
<text transform="translate(393.25,489.55) scale(1.01,1)" font-size="5.8" text-anchor="middle" fill="#111" stroke="#111" stroke-width="0.16" >84</text>
<line x1="406.6" y1="478.25" x2="406.6" y2="480.45" stroke="#111" stroke-width="0.9"/>
<text transform="translate(406.8,489.55) scale(1.01,1)" font-size="5.8" text-anchor="middle" fill="#111" stroke="#111" stroke-width="0.16" >96</text>
<line x1="420.15" y1="478.25" x2="420.15" y2="480.45" stroke="#111" stroke-width="0.9"/>
<text transform="translate(420.35,489.55) scale(1.01,1)" font-size="5.8" text-anchor="middle" fill="#111" stroke="#111" stroke-width="0.16" >108</text>
<line x1="433.7" y1="478.25" x2="433.7" y2="480.45" stroke="#111" stroke-width="0.9"/>
<text transform="translate(433.9,489.55) scale(1.01,1)" font-size="5.8" text-anchor="middle" fill="#111" stroke="#111" stroke-width="0.16" >120</text>
<line x1="447.25" y1="478.25" x2="447.25" y2="480.45" stroke="#111" stroke-width="0.9"/>
<text transform="translate(447.45,489.55) scale(1.01,1)" font-size="5.8" text-anchor="middle" fill="#111" stroke="#111" stroke-width="0.16" >132</text>
<line x1="460.8" y1="478.25" x2="460.8" y2="480.45" stroke="#111" stroke-width="0.9"/>
<text transform="translate(461,489.55) scale(1.01,1)" font-size="5.8" text-anchor="middle" fill="#111" stroke="#111" stroke-width="0.16" >144</text>
<text x="382.9" y="501.05" font-size="7.6" text-anchor="middle" fill="#111" stroke="#111" stroke-width="0.34" textLength="36.6" lengthAdjust="spacingAndGlyphs">Time (months)</text>
<text transform="translate(280,419) rotate(-90)" x="0" y="0" font-size="7.7" text-anchor="middle" fill="#111" stroke="#111" stroke-width="0.32" textLength="90.6" lengthAdjust="spacingAndGlyphs">Probability of leukemia-free survival</text>
<path d="M298.25,359.5 L299.32,359.5 L299.32,362.81 L301.13,362.81 L301.13,366.01 L303.14,366.01 L303.14,368.25 L303.8,368.25 L303.8,368.8 L305.27,368.8 L305.27,372.87 L306.4,372.87 L306.4,374 L309.18,374 L309.18,378.72 L309.8,378.72 L309.8,379.2 L311.29,379.2 L311.29,381.69 L313.3,381.69 L313.3,382.7 L315.04,382.7 L315.04,385.92 L316.8,385.92 L316.8,387 L318.35,387 L318.35,390.78 L320.2,390.78 L320.2,392.2 L322,392.2 L322,397.4 L323.7,397.4 L323.7,402.44 L324.5,402.44 L324.5,403.4 L326.69,403.4 L326.69,408.19 L327.1,408.19 L327.1,408.6 L328.63,408.6 L328.63,413.45 L329.7,413.45 L329.7,414.7 L332.3,414.7 L332.3,415.48 L333.2,415.48 L333.2,415.6 L334.54,415.6 L334.54,416.03 L336.49,416.03 L336.49,416.31 L337.5,416.31 L337.5,416.4 L341.8,416.4 L344.4,416.4 L344.4,418.1 L345.73,418.1 L345.73,419.5 L346.85,419.5 L346.85,420.31 L347.9,420.31 L347.9,420.7 L349.84,420.7 L349.84,423.42 L351.4,423.42 L351.4,424.2 L352.2,424.2 L352.2,433 L451.25,433" fill="none" stroke="#f0a2b3" stroke-width="0.9" stroke-linejoin="miter" stroke-linecap="butt" opacity="1"/>
<path d="M298.25,359.5 L300.15,359.5 L300.15,363.2 L301.96,363.2 L301.96,365.14 L303.1,365.14 L303.1,366.95 L304.7,366.95 L304.7,368 L308.03,368 L308.03,370.65 L309.33,370.65 L309.33,371.24 L309.8,371.24 L309.8,371.4 L312.31,371.4 L312.31,372.07 L315,372.07 L315,372.3 L316.51,372.3 L316.51,374.16 L318.5,374.16 L318.5,374.9 L320.09,374.9 L320.09,377.45 L322,377.45 L322,378.4 L324.07,378.4 L324.07,380.33 L326.3,380.33 L326.3,381 L329.34,381 L329.34,383.13 L330.6,383.13 L330.6,383.5 L331.64,383.5 L331.64,385.62 L332.71,385.62 L332.71,386.67 L333.2,386.67 L333.2,387 L336.36,387 L336.36,390.04 L337.5,390.04 L337.5,390.5 L339.91,390.5 L339.91,393.37 L341,393.37 L341,393.9 L342.94,393.9 L342.94,396.65 L344.4,396.65 L344.4,397.4 L347.39,397.4 L347.39,399.58 L348.8,399.58 L348.8,400 L352.14,400 L352.14,401.51 L353.1,401.51 L353.1,401.7 L354.35,401.7 L354.35,403.14 L355.72,403.14 L355.72,403.97 L356.6,403.97 L356.6,404.3 L358.3,404.3 L358.3,408.6 L360.9,408.6 L360.9,414 L371.6,414 L371.6,424 L383.2,424 L383.2,433.25 L388.75,433.25 L388.75,445.75 L396.25,445.75 L396.25,462" fill="none" stroke="#93a281" stroke-width="1.0" stroke-linejoin="miter" stroke-linecap="butt" opacity="1"/>
<path d="M298.25,359.5 L299.5,359.5 L299.5,362 L302.26,362 L302.26,371.34 L302.9,371.34 L302.9,372.3 L305.5,372.3 L305.5,381 L307.29,381 L307.29,388.26 L308.1,388.26 L308.1,389.6 L311.6,389.6 L311.6,396.5 L314.4,396.5 L314.4,402.79 L315,402.79 L315,403.4 L317.6,403.4 L317.6,409.5 L318.5,409.5 L318.5,410.4 L320.39,410.4 L320.39,414.41 L322,414.41 L322,415.6 L323.4,415.6 L323.4,418.95 L324.5,418.95 L324.5,419.9 L326.17,419.9 L326.17,422.69 L327.1,422.69 L327.1,423.3 L330.6,423.3 L330.6,426 L331.89,426 L331.89,428.94 L334.1,428.94 L334.1,430.3 L335.59,430.3 L335.59,431.52 L337.5,431.52 L337.5,432 L340.48,432 L340.48,432.83 L341,432.83 L341,432.9 L343.04,432.9 L343.04,433.54 L344.4,433.54 L344.4,433.7 L346.54,433.7 L346.54,436.89 L347,436.89 L347,437.2 L349.6,437.2 L349.6,441.5 L351.06,441.5 L351.06,441.89 L352.93,441.89 L352.93,442.3 L356.09,442.3 L356.09,442.65 L357.15,442.65 L357.15,442.9 L359.14,442.9 L359.14,443.13 L360,443.13 L360,443.2 L362.85,443.2 L362.85,444.7 L364.3,444.7 L364.3,445 L365.37,445 L365.37,445.7 L366.52,445.7 L366.52,446.63 L369.73,446.63 L369.73,447.46 L370.4,447.46 L370.4,447.6 L373,447.6 L373,451 L374,451 L374,453.25 L390,453.25 L390,455 L405,455 L405,459.5 L415,459.5 L415,463.25 L430,463.25 L430,467 L442.5,467 L442.5,470.75 L468.75,470.75" fill="none" stroke="#d0164c" stroke-width="1.5" stroke-linejoin="miter" stroke-linecap="butt" opacity="1"/>
<path d="M298.25,359.5 L300.99,359.5 L300.99,366.44 L303.8,366.44 L303.8,368.8 L306.4,368.8 L306.4,375.8 L308.5,375.8 L308.5,382.03 L309,382.03 L309,382.7 L310.09,382.7 L310.09,385.54 L312.4,385.54 L312.4,387 L313.95,387 L313.95,390.52 L316.8,390.52 L316.8,392.2 L319.35,392.2 L319.35,397.54 L320.2,397.54 L320.2,398.3 L321.5,398.3 L321.5,400.79 L323.1,400.79 L323.1,402.57 L324.5,402.57 L324.5,403.4 L327.18,403.4 L327.18,406.71 L328.44,406.71 L328.44,407.57 L328.9,407.57 L328.9,407.8 L331.16,407.8 L331.16,411.08 L333.2,411.08 L333.2,412.1 L335.13,412.1 L335.13,414.29 L336.66,414.29 L336.66,415.26 L337.5,415.26 L337.5,415.6 L338.52,415.6 L338.52,417.42 L340.23,417.42 L340.23,418.63 L341,418.63 L341,419 L344.4,419 L344.4,421.6 L346.95,421.6 L346.95,424.62 L347.9,424.62 L347.9,425.1 L350.04,425.1 L350.04,427.19 L351.4,427.19 L351.4,427.7 L353.1,427.7 L353.1,428.5 L369.2,428.5 L370.4,428.5 L370.4,432.9 L373.1,432.9 L373.1,437.41 L373.9,437.41 L373.9,438 L374.94,438 L374.94,440.29 L377.3,440.29 L377.3,441.5 L379.92,441.5 L379.92,442.99 L380.8,442.99 L380.8,443.2 L382.41,443.2 L382.41,446.04 L383.4,446.04 L383.4,446.7 L386,446.7 L386,450.2 L387.5,450.2 L387.5,453.25 L406.25,453.25 L406.25,459.5 L427.5,459.5 L427.5,463.25 L438.75,463.25 L438.75,470.75 L440.5,470.75" fill="none" stroke="#16ab4e" stroke-width="1.5" stroke-linejoin="miter" stroke-linecap="butt" opacity="1"/>
<path d="M422.5,433 V431.1 M451.25,433 V431.1" stroke="#f0a2b3" stroke-width="0.8" fill="none"/>
<path d="M440.5,470.75 V468.85 M423,459.5 V457.6" stroke="#16ab4e" stroke-width="0.8" fill="none"/>
<text transform="translate(353.9,390.8) scale(0.98,1)" font-size="6.25" text-anchor="start" fill="#000" stroke="#000" stroke-width="0.16" ><tspan font-style="italic">P</tspan> = .0005</text>
<text transform="translate(411.5,342.7) scale(0.98,1)" font-size="6.25" text-anchor="middle" fill="#a9bd98" stroke="#a9bd98" stroke-width="0.16"><tspan font-style="italic">RAS</tspan><tspan font-size="3.7" dy="-2.4">WT</tspan><tspan dy="2.4"> </tspan><tspan font-style="italic">TET2</tspan><tspan font-size="3.7" dy="-2.4">WT</tspan><tspan dy="2.4"></tspan></text>
<text transform="translate(411.5,348.8) scale(0.98,1)" font-size="6.25" text-anchor="middle" fill="#000" stroke="#000" stroke-width="0.16" >(n = 97, events: 27)</text>
<text transform="translate(411.5,356.3) scale(0.98,1)" font-size="6.25" text-anchor="middle" fill="#000" stroke="#000" stroke-width="0.16" >Median LFS 65.7 m</text>
<text transform="translate(411.5,365.6) scale(0.98,1)" font-size="6.25" text-anchor="middle" fill="#46b268" stroke="#46b268" stroke-width="0.16"><tspan font-style="italic">RAS</tspan><tspan font-size="3.7" dy="-2.4">WT</tspan><tspan dy="2.4"> </tspan><tspan font-style="italic">TET2</tspan><tspan font-size="3.7" dy="-2.4">MT</tspan><tspan dy="2.4"></tspan></text>
<text transform="translate(411.5,371.7) scale(0.98,1)" font-size="6.25" text-anchor="middle" fill="#000" stroke="#000" stroke-width="0.16" >(n = 184, events: 81)</text>
<text transform="translate(411.5,379.2) scale(0.98,1)" font-size="6.25" text-anchor="middle" fill="#000" stroke="#000" stroke-width="0.16" >Median LFS 36.6 m</text>
<text transform="translate(411.5,388.8) scale(0.98,1)" font-size="6.25" text-anchor="middle" fill="#eeaab8" stroke="#eeaab8" stroke-width="0.16"><tspan font-style="italic">RAS</tspan><tspan font-size="3.7" dy="-2.4">MT</tspan><tspan dy="2.4"> </tspan><tspan font-style="italic">TET2</tspan><tspan font-size="3.7" dy="-2.4">WT</tspan><tspan dy="2.4"></tspan></text>
<text transform="translate(411.5,394.9) scale(0.98,1)" font-size="6.25" text-anchor="middle" fill="#000" stroke="#000" stroke-width="0.16" >(n = 72, events: 25)</text>
<text transform="translate(411.5,402.4) scale(0.98,1)" font-size="6.25" text-anchor="middle" fill="#000" stroke="#000" stroke-width="0.16" >Median LFS 40.6 m</text>
<text transform="translate(411.5,412.3) scale(0.98,1)" font-size="6.25" text-anchor="middle" fill="#cc1a46" stroke="#cc1a46" stroke-width="0.16"><tspan font-style="italic">RAS</tspan><tspan font-size="3.7" dy="-2.4">MT</tspan><tspan dy="2.4"> </tspan><tspan font-style="italic">TET2</tspan><tspan font-size="3.7" dy="-2.4">MT</tspan><tspan dy="2.4"></tspan></text>
<text transform="translate(411.5,418.4) scale(0.98,1)" font-size="6.25" text-anchor="middle" fill="#000" stroke="#000" stroke-width="0.16" >(n = 158, events: 88)</text>
<text transform="translate(411.5,425.9) scale(0.98,1)" font-size="6.25" text-anchor="middle" fill="#000" stroke="#000" stroke-width="0.16" >Median LFS 22.7 m</text>
<path d="M439.4,336.4 L443.6,336.4 L443.6,379.2 L439.4,379.2" fill="none" stroke="#333" stroke-width="0.8"/>
<path d="M439.4,384.8 L443.6,384.8 L443.6,427.3 L439.4,427.3" fill="none" stroke="#333" stroke-width="0.8"/>
<text transform="translate(471.25,352.8) scale(0.98,1)" font-size="6.25" text-anchor="middle" fill="#000" stroke="#000" stroke-width="0.16" >HR 1.68</text>
<text transform="translate(471.25,360.1) scale(0.98,1)" font-size="6.25" text-anchor="middle" fill="#000" stroke="#000" stroke-width="0.16" >(95% CI 1.13-2.48)</text>
<text transform="translate(471.25,367.4) scale(0.98,1)" font-size="6.25" text-anchor="middle" fill="#000" stroke="#000" stroke-width="0.16" ><tspan font-style="italic">P</tspan> = .0176</text>
<text transform="translate(471.25,405.6) scale(0.98,1)" font-size="6.25" text-anchor="middle" fill="#000" stroke="#000" stroke-width="0.16" >HR 1.60</text>
<text transform="translate(471.25,413.1) scale(0.98,1)" font-size="6.25" text-anchor="middle" fill="#000" stroke="#000" stroke-width="0.16" >(95% CI 1.08-2.39)</text>
<text transform="translate(471.25,420.6) scale(0.98,1)" font-size="6.25" text-anchor="middle" fill="#000" stroke="#000" stroke-width="0.16" ><tspan font-style="italic">P</tspan> = .0345</text>
<text x="7" y="514.25" font-size="10.3" font-weight="bold" fill="#000" stroke="#000" stroke-width="0.5">G</text>
<line x1="35.6" y1="513.25" x2="35.6" y2="633" stroke="#111" stroke-width="1.25"/>
<line x1="32.6" y1="632.5" x2="35.6" y2="632.5" stroke="#111" stroke-width="0.9"/>
<text transform="translate(29.4,634.55) scale(1.01,1)" font-size="5.8" text-anchor="end" fill="#111" stroke="#111" stroke-width="0.16" >0</text>
<line x1="32.6" y1="620.67" x2="35.6" y2="620.67" stroke="#111" stroke-width="0.9"/>
<text transform="translate(29.4,622.72) scale(1.01,1)" font-size="5.8" text-anchor="end" fill="#111" stroke="#111" stroke-width="0.16" >10</text>
<line x1="32.6" y1="608.85" x2="35.6" y2="608.85" stroke="#111" stroke-width="0.9"/>
<text transform="translate(29.4,610.9) scale(1.01,1)" font-size="5.8" text-anchor="end" fill="#111" stroke="#111" stroke-width="0.16" >20</text>
<line x1="32.6" y1="597.02" x2="35.6" y2="597.02" stroke="#111" stroke-width="0.9"/>
<text transform="translate(29.4,599.07) scale(1.01,1)" font-size="5.8" text-anchor="end" fill="#111" stroke="#111" stroke-width="0.16" >30</text>
<line x1="32.6" y1="585.2" x2="35.6" y2="585.2" stroke="#111" stroke-width="0.9"/>
<text transform="translate(29.4,587.25) scale(1.01,1)" font-size="5.8" text-anchor="end" fill="#111" stroke="#111" stroke-width="0.16" >40</text>
<line x1="32.6" y1="573.38" x2="35.6" y2="573.38" stroke="#111" stroke-width="0.9"/>
<text transform="translate(29.4,575.42) scale(1.01,1)" font-size="5.8" text-anchor="end" fill="#111" stroke="#111" stroke-width="0.16" >50</text>
<line x1="32.6" y1="561.55" x2="35.6" y2="561.55" stroke="#111" stroke-width="0.9"/>
<text transform="translate(29.4,563.6) scale(1.01,1)" font-size="5.8" text-anchor="end" fill="#111" stroke="#111" stroke-width="0.16" >60</text>
<line x1="32.6" y1="549.73" x2="35.6" y2="549.73" stroke="#111" stroke-width="0.9"/>
<text transform="translate(29.4,551.77) scale(1.01,1)" font-size="5.8" text-anchor="end" fill="#111" stroke="#111" stroke-width="0.16" >70</text>
<line x1="32.6" y1="537.9" x2="35.6" y2="537.9" stroke="#111" stroke-width="0.9"/>
<text transform="translate(29.4,539.95) scale(1.01,1)" font-size="5.8" text-anchor="end" fill="#111" stroke="#111" stroke-width="0.16" >80</text>
<line x1="32.6" y1="526.08" x2="35.6" y2="526.08" stroke="#111" stroke-width="0.9"/>
<text transform="translate(29.4,528.12) scale(1.01,1)" font-size="5.8" text-anchor="end" fill="#111" stroke="#111" stroke-width="0.16" >90</text>
<line x1="32.6" y1="514.25" x2="35.6" y2="514.25" stroke="#111" stroke-width="0.9"/>
<text transform="translate(29.4,516.3) scale(1.01,1)" font-size="5.8" text-anchor="end" fill="#111" stroke="#111" stroke-width="0.16" >100</text>
<line x1="33" y1="632.5" x2="205" y2="632.5" stroke="#111" stroke-width="1.2"/>
<line x1="35.6" y1="632.5" x2="35.6" y2="634.7" stroke="#111" stroke-width="0.9"/>
<text transform="translate(35.8,643.8) scale(1.01,1)" font-size="5.8" text-anchor="middle" fill="#111" stroke="#111" stroke-width="0.16" >0</text>
<line x1="49.15" y1="632.5" x2="49.15" y2="634.7" stroke="#111" stroke-width="0.9"/>
<text transform="translate(49.35,643.8) scale(1.01,1)" font-size="5.8" text-anchor="middle" fill="#111" stroke="#111" stroke-width="0.16" >12</text>
<line x1="62.7" y1="632.5" x2="62.7" y2="634.7" stroke="#111" stroke-width="0.9"/>
<text transform="translate(62.9,643.8) scale(1.01,1)" font-size="5.8" text-anchor="middle" fill="#111" stroke="#111" stroke-width="0.16" >24</text>
<line x1="76.25" y1="632.5" x2="76.25" y2="634.7" stroke="#111" stroke-width="0.9"/>
<text transform="translate(76.45,643.8) scale(1.01,1)" font-size="5.8" text-anchor="middle" fill="#111" stroke="#111" stroke-width="0.16" >36</text>
<line x1="89.8" y1="632.5" x2="89.8" y2="634.7" stroke="#111" stroke-width="0.9"/>
<text transform="translate(90,643.8) scale(1.01,1)" font-size="5.8" text-anchor="middle" fill="#111" stroke="#111" stroke-width="0.16" >48</text>
<line x1="103.35" y1="632.5" x2="103.35" y2="634.7" stroke="#111" stroke-width="0.9"/>
<text transform="translate(103.55,643.8) scale(1.01,1)" font-size="5.8" text-anchor="middle" fill="#111" stroke="#111" stroke-width="0.16" >60</text>
<line x1="116.9" y1="632.5" x2="116.9" y2="634.7" stroke="#111" stroke-width="0.9"/>
<text transform="translate(117.1,643.8) scale(1.01,1)" font-size="5.8" text-anchor="middle" fill="#111" stroke="#111" stroke-width="0.16" >72</text>
<line x1="130.45" y1="632.5" x2="130.45" y2="634.7" stroke="#111" stroke-width="0.9"/>
<text transform="translate(130.65,643.8) scale(1.01,1)" font-size="5.8" text-anchor="middle" fill="#111" stroke="#111" stroke-width="0.16" >84</text>
<line x1="144" y1="632.5" x2="144" y2="634.7" stroke="#111" stroke-width="0.9"/>
<text transform="translate(144.2,643.8) scale(1.01,1)" font-size="5.8" text-anchor="middle" fill="#111" stroke="#111" stroke-width="0.16" >96</text>
<line x1="157.55" y1="632.5" x2="157.55" y2="634.7" stroke="#111" stroke-width="0.9"/>
<text transform="translate(157.75,643.8) scale(1.01,1)" font-size="5.8" text-anchor="middle" fill="#111" stroke="#111" stroke-width="0.16" >108</text>
<line x1="171.1" y1="632.5" x2="171.1" y2="634.7" stroke="#111" stroke-width="0.9"/>
<text transform="translate(171.3,643.8) scale(1.01,1)" font-size="5.8" text-anchor="middle" fill="#111" stroke="#111" stroke-width="0.16" >120</text>
<line x1="184.65" y1="632.5" x2="184.65" y2="634.7" stroke="#111" stroke-width="0.9"/>
<text transform="translate(184.85,643.8) scale(1.01,1)" font-size="5.8" text-anchor="middle" fill="#111" stroke="#111" stroke-width="0.16" >132</text>
<line x1="198.2" y1="632.5" x2="198.2" y2="634.7" stroke="#111" stroke-width="0.9"/>
<text transform="translate(198.4,643.8) scale(1.01,1)" font-size="5.8" text-anchor="middle" fill="#111" stroke="#111" stroke-width="0.16" >144</text>
<text x="120.3" y="655.3" font-size="7.6" text-anchor="middle" fill="#111" stroke="#111" stroke-width="0.34" textLength="36.6" lengthAdjust="spacingAndGlyphs">Time (months)</text>
<text transform="translate(17.8,573.38) rotate(-90)" x="0" y="0" font-size="7.7" text-anchor="middle" fill="#111" stroke="#111" stroke-width="0.32" textLength="90.6" lengthAdjust="spacingAndGlyphs">Probability of leukemia-free survival</text>
<path d="M35.75,513 L39,513 L39,518 L42.4,518 L42.4,529.1 L43,529.1 L43,530 L44.47,530 L44.47,534.78 L47,534.78 L47,537 L48.48,537 L48.48,539.48 L49.49,539.48 L49.49,541.05 L51,541.05 L51,542 L53.02,542 L53.02,546.91 L56,546.91 L56,549 L57.97,549 L57.97,553.88 L61,553.88 L61,556 L63.11,556 L63.11,559.92 L64.49,559.92 L64.49,561.6 L65.51,561.6 L65.51,562.66 L66,562.66 L66,563 L68.54,563 L68.54,566.02 L71,566.02 L71,567 L72.21,567 L72.21,569.45 L74.7,569.45 L74.7,571.35 L76,571.35 L76,572 L78.21,572 L78.21,573.92 L79.55,573.92 L79.55,574.93 L81.23,574.93 L81.23,575.74 L82,575.74 L82,576 L85.23,576 L85.23,578.57 L86.48,578.57 L86.48,579.49 L88,579.49 L88,580 L90.94,580 L90.94,583.72 L94,583.72 L94,585 L95.47,585 L95.47,585.71 L96.76,585.71 L96.76,586.46 L100,586.46 L100,587 L103.35,587 L103.35,588.11 L105.51,588.11 L105.51,588.52 L106.63,588.52 L106.63,588.83 L108,588.83 L108,589 L110,589 L110,591 L133.75,591 L133.75,596.75 L150,596.75 L150,608 L158,608 L158,615 L166.25,615 L166.25,625.5 L187.5,625.5 L187.5,632.5" fill="none" stroke="#f0a2b3" stroke-width="0.9" stroke-linejoin="miter" stroke-linecap="butt" opacity="1"/>
<path d="M35.75,513 L38.32,513 L38.32,515.69 L39,515.69 L39,516 L40.24,516 L40.24,522.77 L42.5,522.77 L42.5,526 L45.47,526 L45.47,532.27 L46.25,532.27 L46.25,533 L49.45,533 L49.45,539.49 L50,539.49 L50,540 L51.7,540 L51.7,542.81 L52.98,542.81 L52.98,544.44 L54.43,544.44 L54.43,545.66 L55,545.66 L55,546 L57.4,546 L57.4,551.18 L60,551.18 L60,553 L61.89,553 L61.89,557.82 L65,557.82 L65,560 L67.08,560 L67.08,563.46 L68.7,563.46 L68.7,565.22 L70,565.22 L70,566 L73.28,566 L73.28,569.12 L74.52,569.12 L74.52,569.81 L75,569.81 L75,570 L77.49,570 L77.49,573.25 L79.01,573.25 L79.01,574.5 L80,574.5 L80,575 L81.33,575 L81.33,576.04 L82.82,576.04 L82.82,576.81 L84.42,576.81 L84.42,577.61 L86,577.61 L86,578 L88.57,578 L88.57,580.76 L90.05,580.76 L90.05,581.8 L91.07,581.8 L91.07,582.61 L92,582.61 L92,583 L94.63,583 L94.63,584.68 L96.07,584.68 L96.07,585.52 L98,585.52 L98,586 L99.48,586 L99.48,586.24 L102.4,586.24 L102.4,586.43 L104,586.43 L104,586.5 L105.14,586.5 L105.14,587.82 L106.38,587.82 L106.38,589.01 L108.33,589.01 L108.33,590.37 L110,590.37 L110,591 L112.54,591 L112.54,593.62 L113.75,593.62 L113.75,594.7 L115.13,594.7 L115.13,595.64 L116,595.64 L116,596 L117.98,596 L117.98,596.47 L119.66,596.47 L119.66,596.75 L121.39,596.75 L121.39,596.95 L122,596.95 L122,597 L123.75,597 L123.75,597.37 L126.11,597.37 L126.11,597.63 L127.96,597.63 L127.96,597.87 L130,597.87 L130,598 L141.25,598 L141.25,608 L153.75,608 L153.75,613 L161.25,613 L161.25,615.5 L166.25,615.5 L166.25,620.5 L175,620.5 L175,626.75 L180,626.75 L180,630.5" fill="none" stroke="#93a281" stroke-width="1.0" stroke-linejoin="miter" stroke-linecap="butt" opacity="1"/>
<path d="M35.75,513 L37,518 L38.2,530 L39.5,543.5 L43.4,543.5 L44.2,548.7 L49.4,548.7 L50.3,554.7 L53.8,555.6 L55.5,561.6 L56.4,567.7 L58,577 L59,585 L60.5,586 L61.5,602.3 L64.1,602.3 L65,608 L83.75,608 L83.75,616.75 L98.75,616.75 L98.75,624.25 L107.5,624.25 L107.5,632.5" fill="none" stroke="#d0164c" stroke-width="1.2" stroke-linejoin="miter" stroke-linecap="butt" opacity="1"/>
<path d="M35.75,513 L37.56,513 L37.56,517.7 L38.2,517.7 L38.2,518.4 L40.8,518.4 L40.8,525.3 L43.4,525.3 L43.4,530.5 L45.02,530.5 L45.02,534.34 L46.8,534.34 L46.8,535.7 L48.56,535.7 L48.56,539.6 L50.3,539.6 L50.3,540.9 L51.3,540.9 L51.3,543.66 L53.8,543.66 L53.8,545.2 L57.2,545.2 L57.2,550.4 L59.72,550.4 L59.72,554.88 L60.7,554.88 L60.7,555.6 L61.75,555.6 L61.75,557.91 L63.3,557.91 L63.3,559.4 L64.1,559.4 L64.1,559.9 L67.6,559.9 L67.6,564.2 L70.9,564.2 L70.9,568.09 L71.9,568.09 L71.9,568.6 L73.5,568.6 L73.5,570.62 L75.53,570.62 L75.53,571.7 L76.3,571.7 L76.3,572 L79.54,572 L79.54,575.77 L80.6,575.77 L80.6,576.3 L83.53,576.3 L83.53,579.24 L84.9,579.24 L84.9,579.8 L87.88,579.8 L87.88,582.55 L90.1,582.55 L90.1,583.3 L92.56,583.3 L92.56,584.98 L94.34,584.98 L94.34,585.66 L95.3,585.66 L95.3,585.9 L97.17,585.9 L97.17,587.55 L100.05,587.55 L100.05,588.39 L100.5,588.39 L100.5,588.5 L101.97,588.5 L101.97,589.88 L104.78,589.88 L104.78,590.78 L105.7,590.78 L105.7,591 L106.85,591 L106.85,592.13 L107.92,592.13 L107.92,593.28 L110.25,593.28 L110.25,594.28 L110.9,594.28 L110.9,594.5 L114.26,594.5 L114.26,596.66 L116,596.66 L116,597.1 L119.38,597.1 L119.38,599.68 L121.01,599.68 L121.01,600.55 L122.21,600.55 L122.21,601.16 L123,601.16 L123,601.4 L125.2,601.4 L125.2,602.85 L127.9,602.85 L127.9,603.82 L130,603.82 L130,604.25 L131.56,604.25 L131.56,607.29 L132.5,607.29 L132.5,608 L134.99,608 L134.99,608.29 L137.61,608.29 L137.61,608.49 L140.41,608.49 L140.41,608.71 L143.45,608.71 L143.45,608.92 L146.05,608.92 L146.05,609.06 L147.33,609.06 L147.33,609.23 L150.36,609.23 L150.36,609.4 L152.06,609.4 L152.06,609.48 L152.5,609.48 L152.5,609.5 L153.75,609.5 L153.75,611.75 L156.53,611.75 L156.53,612.1 L158,612.1 L158,612.25 L159.59,612.25 L159.59,612.41 L161.17,612.41 L161.17,612.56 L162.53,612.56 L162.53,612.78 L165.66,612.78 L165.66,613.06 L168.05,613.06 L168.05,613.27 L169.83,613.27 L169.83,613.43 L171.25,613.43 L171.25,613.5 L173.75,613.5 L173.75,615.5 L175.97,615.5 L175.97,617.89 L177.52,617.89 L177.52,619.51 L180,619.51 L180,620.5 L203.75,620.5 L203.75,626.75" fill="none" stroke="#16ab4e" stroke-width="1.7" stroke-linejoin="miter" stroke-linecap="butt" opacity="1"/>
<path d="M161,613.5 V611.6 M186,620.5 V618.6 M195,620.5 V618.6 M203.75,620.5 V618.6" stroke="#16ab4e" stroke-width="0.8" fill="none"/>
<text transform="translate(106.2,553.5) scale(0.98,1)" font-size="6.25" text-anchor="start" fill="#000" stroke="#000" stroke-width="0.16" ><tspan font-style="italic">P</tspan> = .015</text>
<text transform="translate(177,515.5) scale(0.98,1)" font-size="6.25" text-anchor="middle" fill="#9ccc9c" stroke="#9ccc9c" stroke-width="0.16"><tspan font-style="italic">NRAS</tspan><tspan font-size="3.7" dy="-2.4">WT</tspan><tspan dy="2.4"> </tspan><tspan font-style="italic">RUNX1</tspan><tspan font-size="3.7" dy="-2.4">WT</tspan><tspan dy="2.4"></tspan></text>
<text transform="translate(177,521.6) scale(0.98,1)" font-size="6.25" text-anchor="middle" fill="#000" stroke="#000" stroke-width="0.16" >(n = 569, events: 287)</text>
<text transform="translate(177,529.1) scale(0.98,1)" font-size="6.25" text-anchor="middle" fill="#000" stroke="#000" stroke-width="0.16" >Median LFS 36.9 m</text>
<text transform="translate(177,538.8) scale(0.98,1)" font-size="6.25" text-anchor="middle" fill="#46b268" stroke="#46b268" stroke-width="0.16"><tspan font-style="italic">NRAS</tspan><tspan font-size="3.7" dy="-2.4">MT</tspan><tspan dy="2.4"> </tspan><tspan font-style="italic">RUNX1</tspan><tspan font-size="3.7" dy="-2.4">WT</tspan><tspan dy="2.4"></tspan></text>
<text transform="translate(177,544.9) scale(0.98,1)" font-size="6.25" text-anchor="middle" fill="#000" stroke="#000" stroke-width="0.16" >(n = 113, events: 58)</text>
<text transform="translate(177,552.4) scale(0.98,1)" font-size="6.25" text-anchor="middle" fill="#000" stroke="#000" stroke-width="0.16" >Median LFS 36.6 m</text>
<text transform="translate(177,562.2) scale(0.98,1)" font-size="6.25" text-anchor="middle" fill="#eeaab8" stroke="#eeaab8" stroke-width="0.16"><tspan font-style="italic">NRAS</tspan><tspan font-size="3.7" dy="-2.4">WT</tspan><tspan dy="2.4"> </tspan><tspan font-style="italic">RUNX1</tspan><tspan font-size="3.7" dy="-2.4">MT</tspan><tspan dy="2.4"></tspan></text>
<text transform="translate(177,568.3) scale(0.98,1)" font-size="6.25" text-anchor="middle" fill="#000" stroke="#000" stroke-width="0.16" >(n = 107, events: 53)</text>
<text transform="translate(177,575.8) scale(0.98,1)" font-size="6.25" text-anchor="middle" fill="#000" stroke="#000" stroke-width="0.16" >Median LFS 36.2 m</text>
<text transform="translate(177,585.5) scale(0.98,1)" font-size="6.25" text-anchor="middle" fill="#cc1a46" stroke="#cc1a46" stroke-width="0.16"><tspan font-style="italic">NRAS</tspan><tspan font-size="3.7" dy="-2.4">MT</tspan><tspan dy="2.4"> </tspan><tspan font-style="italic">RUNX1</tspan><tspan font-size="3.7" dy="-2.4">MT</tspan><tspan dy="2.4"></tspan></text>
<text transform="translate(177,591.6) scale(0.98,1)" font-size="6.25" text-anchor="middle" fill="#000" stroke="#000" stroke-width="0.16" >(n = 25, events: 20)</text>
<text transform="translate(177,599.1) scale(0.98,1)" font-size="6.25" text-anchor="middle" fill="#000" stroke="#000" stroke-width="0.16" >Median LFS 18.7 m</text>
<text x="266.25" y="514.25" font-size="10.3" font-weight="bold" fill="#000" stroke="#000" stroke-width="0.5">H</text>
<line x1="298.2" y1="513.25" x2="298.2" y2="633" stroke="#111" stroke-width="1.25"/>
<line x1="295.2" y1="632.5" x2="298.2" y2="632.5" stroke="#111" stroke-width="0.9"/>
<text transform="translate(292,634.55) scale(1.01,1)" font-size="5.8" text-anchor="end" fill="#111" stroke="#111" stroke-width="0.16" >0</text>
<line x1="295.2" y1="620.67" x2="298.2" y2="620.67" stroke="#111" stroke-width="0.9"/>
<text transform="translate(292,622.72) scale(1.01,1)" font-size="5.8" text-anchor="end" fill="#111" stroke="#111" stroke-width="0.16" >10</text>
<line x1="295.2" y1="608.85" x2="298.2" y2="608.85" stroke="#111" stroke-width="0.9"/>
<text transform="translate(292,610.9) scale(1.01,1)" font-size="5.8" text-anchor="end" fill="#111" stroke="#111" stroke-width="0.16" >20</text>
<line x1="295.2" y1="597.02" x2="298.2" y2="597.02" stroke="#111" stroke-width="0.9"/>
<text transform="translate(292,599.07) scale(1.01,1)" font-size="5.8" text-anchor="end" fill="#111" stroke="#111" stroke-width="0.16" >30</text>
<line x1="295.2" y1="585.2" x2="298.2" y2="585.2" stroke="#111" stroke-width="0.9"/>
<text transform="translate(292,587.25) scale(1.01,1)" font-size="5.8" text-anchor="end" fill="#111" stroke="#111" stroke-width="0.16" >40</text>
<line x1="295.2" y1="573.38" x2="298.2" y2="573.38" stroke="#111" stroke-width="0.9"/>
<text transform="translate(292,575.42) scale(1.01,1)" font-size="5.8" text-anchor="end" fill="#111" stroke="#111" stroke-width="0.16" >50</text>
<line x1="295.2" y1="561.55" x2="298.2" y2="561.55" stroke="#111" stroke-width="0.9"/>
<text transform="translate(292,563.6) scale(1.01,1)" font-size="5.8" text-anchor="end" fill="#111" stroke="#111" stroke-width="0.16" >60</text>
<line x1="295.2" y1="549.73" x2="298.2" y2="549.73" stroke="#111" stroke-width="0.9"/>
<text transform="translate(292,551.77) scale(1.01,1)" font-size="5.8" text-anchor="end" fill="#111" stroke="#111" stroke-width="0.16" >70</text>
<line x1="295.2" y1="537.9" x2="298.2" y2="537.9" stroke="#111" stroke-width="0.9"/>
<text transform="translate(292,539.95) scale(1.01,1)" font-size="5.8" text-anchor="end" fill="#111" stroke="#111" stroke-width="0.16" >80</text>
<line x1="295.2" y1="526.08" x2="298.2" y2="526.08" stroke="#111" stroke-width="0.9"/>
<text transform="translate(292,528.12) scale(1.01,1)" font-size="5.8" text-anchor="end" fill="#111" stroke="#111" stroke-width="0.16" >90</text>
<line x1="295.2" y1="514.25" x2="298.2" y2="514.25" stroke="#111" stroke-width="0.9"/>
<text transform="translate(292,516.3) scale(1.01,1)" font-size="5.8" text-anchor="end" fill="#111" stroke="#111" stroke-width="0.16" >100</text>
<line x1="295.6" y1="632.5" x2="467.6" y2="632.5" stroke="#111" stroke-width="1.2"/>
<line x1="298.2" y1="632.5" x2="298.2" y2="634.7" stroke="#111" stroke-width="0.9"/>
<text transform="translate(298.4,643.8) scale(1.01,1)" font-size="5.8" text-anchor="middle" fill="#111" stroke="#111" stroke-width="0.16" >0</text>
<line x1="311.75" y1="632.5" x2="311.75" y2="634.7" stroke="#111" stroke-width="0.9"/>
<text transform="translate(311.95,643.8) scale(1.01,1)" font-size="5.8" text-anchor="middle" fill="#111" stroke="#111" stroke-width="0.16" >12</text>
<line x1="325.3" y1="632.5" x2="325.3" y2="634.7" stroke="#111" stroke-width="0.9"/>
<text transform="translate(325.5,643.8) scale(1.01,1)" font-size="5.8" text-anchor="middle" fill="#111" stroke="#111" stroke-width="0.16" >24</text>
<line x1="338.85" y1="632.5" x2="338.85" y2="634.7" stroke="#111" stroke-width="0.9"/>
<text transform="translate(339.05,643.8) scale(1.01,1)" font-size="5.8" text-anchor="middle" fill="#111" stroke="#111" stroke-width="0.16" >36</text>
<line x1="352.4" y1="632.5" x2="352.4" y2="634.7" stroke="#111" stroke-width="0.9"/>
<text transform="translate(352.6,643.8) scale(1.01,1)" font-size="5.8" text-anchor="middle" fill="#111" stroke="#111" stroke-width="0.16" >48</text>
<line x1="365.95" y1="632.5" x2="365.95" y2="634.7" stroke="#111" stroke-width="0.9"/>
<text transform="translate(366.15,643.8) scale(1.01,1)" font-size="5.8" text-anchor="middle" fill="#111" stroke="#111" stroke-width="0.16" >60</text>
<line x1="379.5" y1="632.5" x2="379.5" y2="634.7" stroke="#111" stroke-width="0.9"/>
<text transform="translate(379.7,643.8) scale(1.01,1)" font-size="5.8" text-anchor="middle" fill="#111" stroke="#111" stroke-width="0.16" >72</text>
<line x1="393.05" y1="632.5" x2="393.05" y2="634.7" stroke="#111" stroke-width="0.9"/>
<text transform="translate(393.25,643.8) scale(1.01,1)" font-size="5.8" text-anchor="middle" fill="#111" stroke="#111" stroke-width="0.16" >84</text>
<line x1="406.6" y1="632.5" x2="406.6" y2="634.7" stroke="#111" stroke-width="0.9"/>
<text transform="translate(406.8,643.8) scale(1.01,1)" font-size="5.8" text-anchor="middle" fill="#111" stroke="#111" stroke-width="0.16" >96</text>
<line x1="420.15" y1="632.5" x2="420.15" y2="634.7" stroke="#111" stroke-width="0.9"/>
<text transform="translate(420.35,643.8) scale(1.01,1)" font-size="5.8" text-anchor="middle" fill="#111" stroke="#111" stroke-width="0.16" >108</text>
<line x1="433.7" y1="632.5" x2="433.7" y2="634.7" stroke="#111" stroke-width="0.9"/>
<text transform="translate(433.9,643.8) scale(1.01,1)" font-size="5.8" text-anchor="middle" fill="#111" stroke="#111" stroke-width="0.16" >120</text>
<line x1="447.25" y1="632.5" x2="447.25" y2="634.7" stroke="#111" stroke-width="0.9"/>
<text transform="translate(447.45,643.8) scale(1.01,1)" font-size="5.8" text-anchor="middle" fill="#111" stroke="#111" stroke-width="0.16" >132</text>
<line x1="460.8" y1="632.5" x2="460.8" y2="634.7" stroke="#111" stroke-width="0.9"/>
<text transform="translate(461,643.8) scale(1.01,1)" font-size="5.8" text-anchor="middle" fill="#111" stroke="#111" stroke-width="0.16" >144</text>
<text x="382.9" y="655.3" font-size="7.6" text-anchor="middle" fill="#111" stroke="#111" stroke-width="0.34" textLength="36.6" lengthAdjust="spacingAndGlyphs">Time (months)</text>
<text transform="translate(280,573.38) rotate(-90)" x="0" y="0" font-size="7.7" text-anchor="middle" fill="#111" stroke="#111" stroke-width="0.32" textLength="90.6" lengthAdjust="spacingAndGlyphs">Probability of leukemia-free survival</text>
<path d="M298.25,513 L300.5,513 L300.5,519 L303,519 L303,527 L305.5,527 L305.5,534 L307.25,534 L307.25,539.02 L308.1,539.02 L308.1,540 L309.17,540 L309.17,543.13 L310,543.13 L310,544 L311.6,544 L311.6,547.8 L313.3,547.8 L313.3,553.8 L314.2,553.8 L314.2,561.6 L322.4,561.6 L322.4,568.6 L330.2,568.6 L330.2,586.7 L342.2,586.7 L342.2,605 L405,605 L405,632.5" fill="none" stroke="#f0a2b3" stroke-width="0.9" stroke-linejoin="miter" stroke-linecap="butt" opacity="1"/>
<path d="M298.25,513 L299.59,513 L299.59,517.46 L301,517.46 L301,519 L303.8,519 L303.8,526 L305.29,526 L305.29,529.94 L306.4,529.94 L306.4,531 L308.61,531 L308.61,535.95 L309.8,535.95 L309.8,537 L310.88,537 L310.88,539.05 L312.31,539.05 L312.31,540.43 L313.3,540.43 L313.3,541 L316.8,541 L316.8,544.5 L319.43,544.5 L319.43,549.38 L320.2,549.38 L320.2,550 L321.6,550 L321.6,553.85 L323.7,553.85 L323.7,555.5 L324.97,555.5 L324.97,557.9 L327.1,557.9 L327.1,559 L329.63,559 L329.63,562.01 L330.6,562.01 L330.6,562.5 L334.1,562.5 L334.1,566.5 L336.43,566.5 L336.43,569.22 L338.83,569.22 L338.83,570.32 L339.3,570.32 L339.3,570.5 L340.54,570.5 L340.54,573.08 L343.6,573.08 L343.6,574.5 L346.11,574.5 L346.11,576.88 L347.9,576.88 L347.9,577.5 L350.82,577.5 L350.82,580.01 L352.45,580.01 L352.45,580.78 L353.1,580.78 L353.1,581 L355.49,581 L355.49,582.91 L357.35,582.91 L357.35,583.73 L358.3,583.73 L358.3,584 L360.36,584 L360.36,585.86 L361.78,585.86 L361.78,586.92 L363.5,586.92 L363.5,587.5 L364.61,587.5 L364.61,588.75 L367.58,588.75 L367.58,589.73 L368.7,589.73 L368.7,590 L371.5,590 L371.5,591.5 L371.5,597 L373,597 L373,605.5 L387,605.5 L387,611.75 L391.25,611.75 L391.25,616 L468,616" fill="none" stroke="#93a281" stroke-width="1.0" stroke-linejoin="miter" stroke-linecap="butt" opacity="1"/>
<path d="M298.25,513 L301.25,513 L301.25,518 L303,518 L303.8,530.5 L305,539.1 L307.2,541 L307.2,571.1 L316.1,571.1 L316.1,586.5 L322.3,586.5 L322.3,610 L346.25,610 L346.25,632.5" fill="none" stroke="#d0164c" stroke-width="1.2" stroke-linejoin="miter" stroke-linecap="butt" opacity="1"/>
<path d="M298.25,513 L301.2,513 L301.2,520.1 L303.8,520.1 L303.8,527 L306.4,527 L306.4,532.2 L307.78,532.2 L307.78,536.49 L309.8,536.49 L309.8,538.3 L311.33,538.3 L311.33,540.74 L313.3,540.74 L313.3,541.7 L316.34,541.7 L316.34,544.97 L316.8,544.97 L316.8,545.2 L318.23,545.2 L318.23,549.13 L319.75,549.13 L319.75,550.9 L320.2,550.9 L320.2,551.3 L322.44,551.3 L322.44,555.48 L323.7,555.48 L323.7,556.4 L324.99,556.4 L324.99,558.54 L326.58,558.54 L326.58,559.63 L327.1,559.63 L327.1,559.9 L330.6,559.9 L330.6,563.4 L331.69,563.4 L331.69,566.22 L334.1,566.22 L334.1,567.7 L336.92,567.7 L336.92,570.48 L338.01,570.48 L338.01,571.46 L339.3,571.46 L339.3,572 L340.57,572 L340.57,574.5 L343.02,574.5 L343.02,576.01 L343.6,576.01 L343.6,576.3 L346.11,576.3 L346.11,578.36 L347.9,578.36 L347.9,578.9 L349.91,578.9 L349.91,581.06 L352.31,581.06 L352.31,582.13 L353.1,582.13 L353.1,582.4 L355.68,582.4 L355.68,584.21 L357.76,584.21 L357.76,584.86 L358.3,584.86 L358.3,585 L359.35,585 L359.35,586.54 L361.83,586.54 L361.83,587.94 L363.5,587.94 L363.5,588.5 L365.06,588.5 L365.06,589.93 L367.9,589.93 L367.9,590.81 L368.7,590.81 L368.7,591 L370.8,591 L370.8,592.41 L372.22,592.41 L372.22,593.18 L373.9,593.18 L373.9,593.6 L375.15,593.6 L375.15,594.57 L376.45,594.57 L376.45,595.42 L378.48,595.42 L378.48,596.07 L379,596.07 L379,596.2 L381.06,596.2 L381.06,597.02 L383.28,597.02 L383.28,597.44 L384.37,597.44 L384.37,597.79 L386,597.79 L386,598 L387.19,598 L387.19,598.81 L390,598.81 L390,599.25 L392.87,599.25 L392.87,601.91 L395.1,601.91 L395.1,603.02 L396.22,603.02 L396.22,603.82 L397.5,603.82 L397.5,604.25 L411.25,604.25 L413.15,604.25 L413.15,606.13 L415,606.13 L415,606.75 L416.32,606.75 L416.32,608.18 L419.38,608.18 L419.38,609.1 L420,609.1 L420,609.25 L422.76,609.25 L422.76,611.8 L425.72,611.8 L425.72,612.84 L426.25,612.84 L426.25,613 L429.62,613 L429.62,615.09 L431.25,615.09 L431.25,615.5 L434.56,615.5 L434.56,617.85 L435,617.85 L435,618 L436.39,618 L436.39,620.13 L439.29,620.13 L439.29,621.48 L440,621.48 L440,621.75 L441.15,621.75 L441.15,623.82 L442.99,623.82 L442.99,625.12 L443.75,625.12 L443.75,625.5 L445.12,625.5 L445.12,625.7 L448.28,625.7 L448.28,625.86 L449.94,625.86 L449.94,625.96 L451.25,625.96 L451.25,626 L465,626.5 L465,631.75" fill="none" stroke="#16ab4e" stroke-width="1.7" stroke-linejoin="miter" stroke-linecap="butt" opacity="1"/>
<path d="M430,615.2 V613.3 M451.25,626 V624.1 M460,626.4 V624.5" stroke="#16ab4e" stroke-width="0.8" fill="none"/>
<path d="M440,616 V614.1 M458,616 V614.1" stroke="#93a281" stroke-width="0.8" fill="none"/>
<text transform="translate(369.8,553.6) scale(0.98,1)" font-size="6.25" text-anchor="start" fill="#000" stroke="#000" stroke-width="0.16" ><tspan font-style="italic">P</tspan> = .015</text>
<text transform="translate(435,515.5) scale(0.98,1)" font-size="6.25" text-anchor="middle" fill="#9ccc9c" stroke="#9ccc9c" stroke-width="0.16"><tspan font-style="italic">KRAS/CBL</tspan><tspan font-size="3.7" dy="-2.4">WT</tspan><tspan dy="2.4"> </tspan><tspan font-style="italic">IDH2</tspan><tspan font-size="3.7" dy="-2.4">WT</tspan><tspan dy="2.4"></tspan></text>
<text transform="translate(435,521.6) scale(0.98,1)" font-size="6.25" text-anchor="middle" fill="#000" stroke="#000" stroke-width="0.16" >(n = 511, events: 265)</text>
<text transform="translate(435,529.1) scale(0.98,1)" font-size="6.25" text-anchor="middle" fill="#000" stroke="#000" stroke-width="0.16" >Median LFS 36.9 m</text>
<text transform="translate(435,538.8) scale(0.98,1)" font-size="6.25" text-anchor="middle" fill="#46b268" stroke="#46b268" stroke-width="0.16"><tspan font-style="italic">KRAS/CBL</tspan><tspan font-size="3.7" dy="-2.4">MT</tspan><tspan dy="2.4"> </tspan><tspan font-style="italic">IDH2</tspan><tspan font-size="3.7" dy="-2.4">WT</tspan><tspan dy="2.4"></tspan></text>
<text transform="translate(435,544.9) scale(0.98,1)" font-size="6.25" text-anchor="middle" fill="#000" stroke="#000" stroke-width="0.16" >(n = 177, events: 78)</text>
<text transform="translate(435,552.4) scale(0.98,1)" font-size="6.25" text-anchor="middle" fill="#000" stroke="#000" stroke-width="0.16" >Median LFS 42.1 m</text>
<text transform="translate(435,561.8) scale(0.98,1)" font-size="6.25" text-anchor="middle" fill="#eeaab8" stroke="#eeaab8" stroke-width="0.16"><tspan font-style="italic">KRAS/CBL</tspan><tspan font-size="3.7" dy="-2.4">WT</tspan><tspan dy="2.4"> </tspan><tspan font-style="italic">IDH2</tspan><tspan font-size="3.7" dy="-2.4">MT</tspan><tspan dy="2.4"></tspan></text>
<text transform="translate(435,567.9) scale(0.98,1)" font-size="6.25" text-anchor="middle" fill="#000" stroke="#000" stroke-width="0.16" >(n = 22, events: 14)</text>
<text transform="translate(435,575.4) scale(0.98,1)" font-size="6.25" text-anchor="middle" fill="#000" stroke="#000" stroke-width="0.16" >Median LFS 28.3 m</text>
<text transform="translate(435,585.5) scale(0.98,1)" font-size="6.25" text-anchor="middle" fill="#cc1a46" stroke="#cc1a46" stroke-width="0.16"><tspan font-style="italic">KRAS/CBL</tspan><tspan font-size="3.7" dy="-2.4">MT</tspan><tspan dy="2.4"> </tspan><tspan font-style="italic">IDH2</tspan><tspan font-size="3.7" dy="-2.4">MT</tspan><tspan dy="2.4"></tspan></text>
<text transform="translate(435,591.6) scale(0.98,1)" font-size="6.25" text-anchor="middle" fill="#000" stroke="#000" stroke-width="0.16" >(n = 16, events: 9)</text>
<text transform="translate(435,599.1) scale(0.98,1)" font-size="6.25" text-anchor="middle" fill="#000" stroke="#000" stroke-width="0.16" >Median LFS 15.8 m</text>
<rect x="0.5" y="0.5" width="519" height="663" fill="none" stroke="#4a4a4a" stroke-width="1.2"/>
</svg>
</body></html>
